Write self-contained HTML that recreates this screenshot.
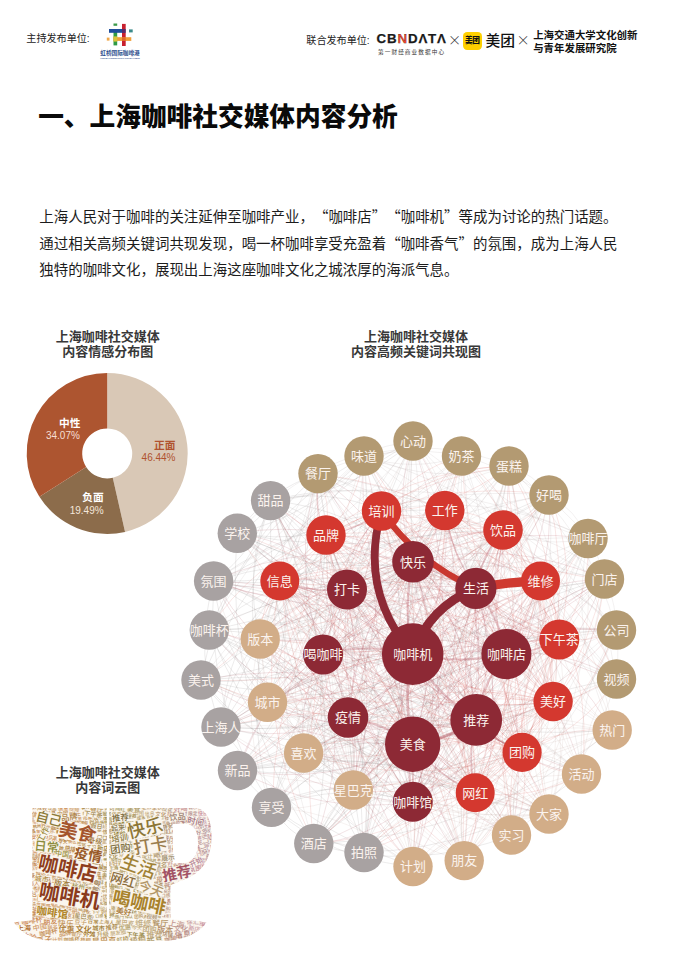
<!DOCTYPE html>
<html lang="zh-CN"><head><meta charset="utf-8"><title>上海咖啡社交媒体内容分析</title>
<style>
html,body{margin:0;padding:0;background:#fff;}
body{width:676px;height:964px;position:relative;overflow:hidden;font-family:"Liberation Sans","Noto Sans CJK SC",sans-serif;color:#111;}
.abs{position:absolute;white-space:nowrap;}
.hd{font-size:10.1px;color:#222;line-height:12px;}
h1{position:absolute;left:38.2px;top:99.2px;margin:0;font-size:25.7px;line-height:36px;font-weight:900;color:#0a0a0a;letter-spacing:0;white-space:nowrap;}
.para{position:absolute;left:39.3px;top:203.2px;width:600px;font-size:14.46px;line-height:26px;color:#1c1c1c;white-space:nowrap;text-spacing-trim:space-all;font-kerning:none;}
.q{font-family:"Noto Sans CJK SC",sans-serif;}
.ttl{position:absolute;text-align:center;font-weight:700;font-size:13px;line-height:15px;color:#383838;width:200px;}
svg{position:absolute;left:0;top:0;}
svg text{font-family:"Liberation Sans","Noto Sans CJK SC",sans-serif;}
</style></head><body>

<div class="abs hd" style="left:26.3px;top:33.4px;">主持发布单位:</div>
<div class="abs hd" style="left:306.3px;top:34.6px;">联合发布单位:</div>
<div class="abs" style="left:376.6px;top:31px;font-family:'Liberation Sans',sans-serif;font-weight:700;font-size:13.3px;line-height:16px;letter-spacing:0.85px;-webkit-text-stroke:0.25px #1a1a1a;color:#1a1a1a;">CB<span style="color:#e8452c;">N</span>D&#923;T&#923;</div>
<div class="abs" style="left:378px;top:47.7px;font-size:5.6px;line-height:8px;letter-spacing:1.12px;color:#333;">第一财经商业数据中心</div>
<div class="abs q" style="left:447.9px;top:31.2px;font-size:13.2px;line-height:18px;color:#333;font-weight:300;">×</div>
<div class="abs" style="left:462.8px;top:31.5px;width:18.8px;height:18.8px;border-radius:4.2px;background:#ffd000;"></div>
<div class="abs" style="left:462.8px;top:36.2px;width:18.8px;text-align:center;font-size:7.7px;line-height:9px;font-weight:900;color:#111;letter-spacing:-0.4px;">美团</div>
<div class="abs" style="left:485.4px;top:30.9px;font-size:14.8px;line-height:20px;font-weight:500;color:#111;">美团</div>
<div class="abs q" style="left:516.6px;top:31.2px;font-size:13.2px;line-height:18px;color:#333;font-weight:300;">×</div>
<div class="abs" style="left:533.2px;top:28.5px;font-size:10.43px;line-height:13.4px;font-weight:700;color:#111;">上海交通大学文化创新<br>与青年发展研究院</div>
<h1>一、上海咖啡社交媒体内容分析</h1>
<div class="para">上海人民对于咖啡的关注延伸至咖啡产业，<span class="q">“</span>咖啡店<span class="q">”“</span>咖啡机<span class="q">”</span>等成为讨论的热门话题。<br>通过相关高频关键词共现发现，喝一杯咖啡享受充盈着<span class="q">“</span>咖啡香气<span class="q">”</span>的氛围，成为上海人民<br>独特的咖啡文化，展现出上海这座咖啡文化之城浓厚的海派气息。</div>
<div class="ttl" style="left:7.7px;top:328.8px;">上海咖啡社交媒体<br>内容情感分布图</div>
<div class="ttl" style="left:316px;top:328.6px;">上海咖啡社交媒体<br>内容高频关键词共现图</div>
<div class="ttl" style="left:7.7px;top:765.3px;">上海咖啡社交媒体<br>内容词云图</div>
<svg width="676" height="964" viewBox="0 0 676 964">
<g>
<rect x="113.5" y="23.5" width="3.7" height="2.3" fill="#3c9a4a"/>
<rect x="122" y="23.9" width="3.7" height="22.1" fill="#c8202f"/>
<rect x="113.5" y="32" width="3.7" height="13.4" fill="#2f9a45"/>
<rect x="109" y="29" width="16.4" height="3.8" fill="#1f4e9c"/>
<rect x="129" y="29.4" width="3.7" height="3" fill="#3a8a8a"/>
<rect x="113.5" y="37.2" width="17.8" height="3.7" fill="#f0a03a"/>
<rect x="106.8" y="37.6" width="2.7" height="3" fill="#f0a84a"/>
<rect x="113.5" y="36.4" width="3.7" height="5.2" fill="#d8c43a"/>
<rect x="122" y="37.2" width="3.7" height="3.7" fill="#e0662a"/>
<rect x="122" y="29" width="3.4" height="3.8" fill="#5a2a6a"/>
<text x="120" y="55.2" text-anchor="middle" font-size="5.65" font-weight="700" fill="#2b4c8c">虹桥国际咖啡港</text>
<text x="120" y="58.7" text-anchor="middle" font-size="1.9" font-weight="700" fill="#2b4c8c" textLength="39.5" lengthAdjust="spacingAndGlyphs">HONGQIAO INTERNATIONAL COFFEE HARBOR</text>
</g>
<path d="M107.20 372.90A80.5 80.5 0 0 1 125.06 531.89L112.75 477.78A25.0 25.0 0 0 0 107.20 428.40Z" fill="#d9c8b6"/>
<path d="M125.06 531.89A80.5 80.5 0 0 1 39.42 496.83L86.15 466.89A25.0 25.0 0 0 0 112.75 477.78Z" fill="#8c6c4b"/>
<path d="M39.42 496.83A80.5 80.5 0 0 1 107.20 372.90L107.20 428.40A25.0 25.0 0 0 0 86.15 466.89Z" fill="#ad5530"/>
<text x="80.4" y="427.0" text-anchor="end" font-size="10.7" font-weight="700" fill="#ffffff">中性</text>
<text x="79.9" y="439.2" text-anchor="end" font-size="10.0" font-weight="400" fill="#f6dfd2">34.07%</text>
<text x="175.5" y="448.9" text-anchor="end" font-size="10.7" font-weight="700" fill="#b0532f">正面</text>
<text x="175.5" y="460.5" text-anchor="end" font-size="10.0" font-weight="400" fill="#b0532f">46.44%</text>
<text x="103.6" y="501.3" text-anchor="end" font-size="10.7" font-weight="700" fill="#ffffff">负面</text>
<text x="103.6" y="513.7" text-anchor="end" font-size="10.0" font-weight="400" fill="#f3e6da">19.49%</text>
<g fill="none" stroke-width="0.55" stroke-linecap="round">
<path stroke="#a59590" stroke-opacity="0.24" d="M413 441Q395 655 512 835M413 441Q279 501 209 630M413 441Q309 457 237 533M413 441Q355 504 347 590M413 441Q452 565 559 639M413 441Q397 591 476 720M413 441Q384 627 475 793M462 456Q511 519 588 538M462 456Q512 542 604 579M462 456Q367 653 413 866M462 456Q387 440 318 474M462 456Q444 480 445 510M462 456Q470 500 503 530M462 456Q359 532 323 654M462 456Q323 546 268 702M462 456Q351 605 353 790M509 466Q527 591 616 679M509 466Q371 635 364 852M509 466Q332 596 272 807M509 466Q319 521 201 680M509 466Q438 436 364 456M549 495Q534 474 509 466M549 495Q367 481 214 581M549 495Q470 505 413 562M549 495Q380 518 260 639M549 495Q474 595 476 720M549 495Q382 582 304 753M588 538Q539 476 462 456M588 538Q576 510 549 495M588 538Q568 638 612 730M588 538Q471 679 464 861M588 538Q436 466 271 501M588 538Q489 490 382 511M588 538Q407 533 260 639M604 579Q514 691 512 835M604 579Q398 537 209 630M604 579Q562 537 503 530M604 579Q572 602 559 639M616 630Q591 530 509 466M616 630Q575 696 582 774M616 630Q402 611 221 727M616 630Q494 501 318 474M616 630Q520 500 364 456M616 630Q519 531 382 511M616 630Q587 593 540 581M616 630Q531 651 476 720M616 630Q548 675 522 752M616 630Q485 681 413 802M616 679Q599 554 509 466M616 679Q626 604 588 538M616 679Q461 723 364 852M616 679Q502 526 318 474M616 679Q585 585 503 530M616 679Q497 588 347 590M616 679Q474 617 323 654M582 774Q554 579 413 441M512 835Q591 775 616 679M413 866Q555 783 616 630M272 807Q351 648 318 474M238 770Q354 635 364 456M201 680Q295 597 318 474M214 581Q337 545 413 441M318 474Q253 658 314 844M318 474Q351 534 413 562M318 474Q281 521 280 581M318 474Q382 596 506 654M318 474Q282 638 353 790M318 474Q342 660 475 793M364 456Q391 457 413 441M364 456Q413 473 462 456M364 456Q435 486 509 466M364 456Q442 635 612 730M364 456Q373 671 512 835M364 456Q397 541 476 588M364 456Q431 549 540 581M364 456Q301 504 280 581M364 456Q281 530 260 639M382 511Q409 481 413 441M382 511Q431 497 462 456M382 511Q356 482 318 474M382 511Q382 481 364 456M445 510Q441 470 413 441M503 530Q495 486 462 456M503 530Q544 549 588 538M503 530Q545 572 604 579M326 535Q455 632 616 630M413 562Q504 580 588 538M413 562Q506 603 604 579M476 588Q491 520 462 456M476 588Q442 503 364 456M280 581Q370 534 413 441M347 590Q449 555 509 466M347 590Q464 577 549 495M347 590Q475 656 616 630M559 639Q520 515 413 441M559 639Q564 544 509 466M559 639Q493 514 364 456M260 639Q317 566 318 474M323 654Q463 613 549 495M323 654Q475 641 588 538M323 654Q377 562 364 456M413 654Q493 576 509 466M413 654Q508 598 549 495M268 702Q443 646 549 495M348 718Q449 606 462 456M348 718Q471 619 509 466M348 718Q498 669 588 538M348 718Q489 744 616 679M476 720Q536 599 509 466M476 720Q465 569 364 456M413 744Q486 608 462 456M522 752Q593 680 604 579M522 752Q590 707 616 630M353 790Q442 626 413 441M353 790Q464 641 462 456M353 790Q513 704 588 538M475 793Q563 656 549 495"/>
<path stroke="#bb9c92" stroke-opacity="0.24" d="M413 441Q367 660 464 861M413 441Q324 605 353 790M462 456Q394 659 464 861M549 495Q444 663 464 861M549 495Q418 658 413 866M588 538Q522 670 549 814M616 630Q439 638 304 753M616 679Q583 721 582 774M612 730Q516 770 464 861M612 730Q467 749 364 852M612 730Q602 643 540 581M612 730Q471 599 280 581M612 730Q601 676 559 639M612 730Q454 689 304 753M612 730Q473 716 353 790M612 730Q500 732 413 802M582 774Q508 797 464 861M582 774Q482 792 413 866M582 774Q496 642 347 590M582 774Q444 652 260 639M582 774Q555 753 522 752M549 814Q472 817 413 866M549 814Q400 715 221 727M549 814Q574 664 503 530M549 814Q584 696 540 581M549 814Q570 758 553 702M549 814Q455 769 353 790M549 814Q483 785 413 802M512 835Q529 621 413 441M512 835Q600 700 588 538M512 835Q439 669 280 581M512 835Q412 727 268 702M512 835Q513 771 476 720M512 835Q468 802 413 802M464 861Q450 674 326 535M464 861Q550 734 540 581M464 861Q549 766 559 639M464 861Q520 765 506 654M464 861Q393 748 268 702M464 861Q536 796 553 702M464 861Q402 779 304 753M413 866Q352 813 272 807M413 866Q427 717 347 590M413 866Q375 727 260 639M413 866Q378 791 304 753M413 866Q396 818 353 790M413 866Q424 834 413 802M413 866Q457 840 475 793M314 844Q343 823 353 790M272 807Q315 813 353 790M238 770Q432 814 612 730M221 727Q370 826 549 814M214 581Q248 709 353 790M271 501Q357 705 549 814M364 456Q302 621 353 790M382 511Q437 676 582 774M382 511Q391 695 512 835M382 511Q363 700 464 861M382 511Q299 554 260 639M382 511Q320 646 353 790M445 510Q491 649 612 730M445 510Q395 689 464 861M445 510Q333 608 304 753M445 510Q352 635 353 790M503 530Q365 608 304 753M326 535Q390 712 549 814M326 535Q275 576 260 639M326 535Q278 640 304 753M326 535Q296 667 353 790M413 562Q326 639 304 753M413 562Q344 666 353 790M476 588Q424 723 464 861M476 588Q397 717 413 866M540 581Q528 684 582 774M540 581Q505 699 549 814M540 581Q390 562 260 639M280 581Q421 712 612 730M280 581Q352 747 512 835M280 581Q253 640 268 702M280 581Q262 671 304 753M559 639Q570 694 612 730M559 639Q548 710 582 774M559 639Q403 621 268 702M260 639Q392 582 462 456M260 639Q429 616 549 495M260 639Q441 644 588 538M260 639Q353 780 512 835M260 639Q325 784 464 861M260 639Q237 725 272 807M260 639Q374 606 445 510M260 639Q400 626 503 530M260 639Q350 626 413 562M260 639Q280 613 280 581M260 639Q312 629 347 590M260 639Q410 690 559 639M260 639Q334 672 413 654M260 639Q253 672 268 702M260 639Q263 703 304 753M323 654Q315 727 353 790M413 654Q454 757 549 814M413 654Q431 761 512 835M506 654Q450 750 464 861M268 702Q412 791 582 774M268 702Q367 810 512 835M268 702Q425 688 540 581M268 702Q424 720 559 639M268 702Q295 761 353 790M348 718Q432 800 549 814M348 718Q382 809 464 861M348 718Q310 696 268 702M476 720Q474 783 512 835M476 720Q403 734 353 790M304 753Q455 644 509 466M304 753Q482 694 588 538M304 753Q484 717 604 579M304 753Q462 794 612 730M304 753Q416 825 549 814M304 753Q339 828 413 866M304 753Q268 751 238 770M304 753Q265 699 201 680M304 753Q308 632 237 533M304 753Q330 621 271 501M304 753Q391 676 413 562M304 753Q418 700 476 588M304 753Q321 663 280 581M304 753Q451 740 559 639M304 753Q301 689 260 639M304 753Q332 743 348 718M304 753Q360 767 413 744M413 744Q347 699 268 702M353 790Q397 844 464 861M353 790Q324 810 314 844M353 790Q296 709 201 680M353 790Q389 626 318 474M353 790Q472 685 503 530M353 790Q383 658 326 535M353 790Q449 710 476 588M353 790Q352 673 280 581M353 790Q332 699 260 639M353 790Q406 732 413 654M353 790Q325 732 268 702M353 790Q335 763 304 753M353 790Q381 806 413 802M413 802Q525 800 612 730M413 802Q502 817 582 774M413 802Q479 831 549 814M413 802Q402 834 413 866M475 793Q486 820 512 835M475 793Q396 744 304 753"/>
<path stroke="#8f8a8a" stroke-opacity="0.3" d="M413 441Q319 638 364 852M413 441Q266 524 201 680M604 579Q414 662 314 844M604 579Q399 637 272 807M616 630Q403 636 238 770M616 679Q437 710 314 844M582 774Q409 689 221 727M582 774Q420 639 209 630M549 814Q401 739 238 770M364 852Q529 734 588 538M364 852Q486 850 582 774M364 852Q340 839 314 844M364 852Q431 685 382 511M364 852Q400 718 347 590M364 852Q377 746 323 654M364 852Q341 761 268 702M364 852Q379 782 348 718M314 844Q476 688 509 466M314 844Q482 837 612 730M314 844Q414 873 512 835M314 844Q350 665 271 501M314 844Q411 720 413 562M272 807Q448 677 509 466M272 807Q332 861 413 866M272 807Q287 833 314 844M238 770Q452 714 588 538M238 770Q287 833 364 852M238 770Q411 695 503 530M238 770Q322 668 326 535M238 770Q421 760 559 639M238 770Q365 786 476 720M221 727Q437 695 588 538M221 727Q293 829 413 866M221 727Q338 646 382 511M221 727Q405 741 559 639M221 727Q284 708 323 654M221 727Q376 739 506 654M221 727Q391 771 553 702M201 680Q378 656 503 530M201 680Q288 629 326 535M201 680Q266 688 323 654M201 680Q358 719 506 654M201 680Q240 734 304 753M201 680Q286 777 413 802M209 630Q387 599 509 466M209 630Q394 748 612 730M209 630Q348 780 549 814M209 630Q271 783 413 866M209 630Q373 630 503 530M209 630Q323 631 413 562M209 630Q226 676 268 702M209 630Q327 720 476 720M209 630Q369 724 553 702M209 630Q315 757 475 793M214 581Q396 595 549 495M214 581Q204 704 272 807M214 581Q192 655 221 727M214 581Q256 550 271 501M214 581Q310 544 364 456M214 581Q341 585 445 510M214 581Q247 592 280 581M214 581Q301 651 413 654M214 581Q220 651 268 702M237 533Q400 567 549 495M237 533Q413 619 604 579M237 533Q223 701 314 844M237 533Q259 523 271 501M237 533Q314 516 364 456M237 533Q313 547 382 511M237 533Q320 577 413 562M237 533Q380 641 559 639M271 501Q352 495 413 441M271 501Q242 568 260 639M271 501Q362 617 506 654M271 501Q235 601 268 702M271 501Q336 645 476 720M271 501Q263 659 353 790M318 474Q224 557 201 680M318 474Q268 490 237 533M364 456Q257 517 209 630M382 511Q265 592 221 727M382 511Q328 487 271 501M445 510Q346 668 364 852M445 510Q317 506 214 581M445 510Q359 476 271 501M503 530Q379 668 364 852M503 530Q339 530 209 630M326 535Q304 508 271 501M413 562Q300 661 272 807M413 562Q289 612 221 727M413 562Q352 507 271 501M476 588Q336 564 209 630M476 588Q346 540 214 581M280 581Q237 693 272 807M280 581Q226 644 221 727M559 639Q387 674 272 807M260 639Q226 676 221 727M323 654Q310 760 364 852M323 654Q301 579 237 533M323 654Q323 569 271 501M413 654Q368 553 271 501M506 654Q378 716 314 844M506 654Q351 642 221 727M268 702Q303 602 271 501M476 720Q398 767 364 852M476 720Q374 754 314 844M476 720Q359 729 272 807M304 753Q278 775 272 807M413 744Q321 728 238 770M413 744Q341 629 214 581M413 744Q383 598 271 501M522 752Q426 776 364 852M522 752Q402 763 314 844M522 752Q374 662 201 680M522 752Q397 614 214 581M353 790Q309 785 272 807M413 802Q341 781 272 807M413 802Q330 756 238 770M413 802Q340 681 209 630M413 802Q371 638 237 533M475 793Q371 765 272 807M475 793Q360 741 238 770M475 793Q380 642 214 581"/>
<path stroke="#9a3040" stroke-opacity="0.24" d="M413 441Q392 501 413 562M462 456Q419 501 413 562M549 495Q429 625 413 802M588 538Q459 523 347 590M604 579Q512 538 413 562M604 579Q496 584 413 654M604 579Q516 628 476 720M604 579Q481 629 413 744M616 630Q557 623 506 654M616 679Q566 648 506 654M612 730Q541 612 413 562M582 774Q564 701 506 654M549 814Q463 696 323 654M549 814Q529 755 476 720M512 835Q536 706 476 588M512 835Q478 773 413 744M464 861Q516 726 476 588M464 861Q430 769 348 718M413 866Q465 714 413 562M413 866Q492 738 476 588M413 866Q406 781 348 718M413 866Q434 805 413 744M314 844Q438 744 476 588M314 844Q351 751 323 654M314 844Q395 766 413 654M314 844Q416 809 476 720M314 844Q370 839 413 802M238 770Q361 696 413 562M238 770Q330 787 413 744M238 770Q320 816 413 802M221 727Q345 677 413 562M221 727Q307 680 347 590M221 727Q286 744 348 718M221 727Q304 797 413 802M201 680Q332 747 476 720M201 680Q296 748 413 744M209 630Q264 697 348 718M214 581Q317 605 413 562M214 581Q343 629 476 588M214 581Q279 608 347 590M214 581Q258 672 348 718M214 581Q285 696 413 744M237 533Q283 580 347 590M271 501Q331 555 413 562M271 501Q294 558 347 590M271 501Q316 602 413 654M271 501Q300 647 413 744M318 474Q377 558 476 588M318 474Q313 536 347 590M318 474Q290 565 323 654M318 474Q310 654 413 802M364 456Q355 563 413 654M382 511Q351 544 347 590M382 511Q328 573 323 654M382 511Q357 633 413 744M445 510Q420 531 413 562M445 510Q361 598 348 718M445 510Q379 651 413 802M503 530Q453 531 413 562M503 530Q480 555 476 588M503 530Q415 533 347 590M503 530Q437 577 413 654M503 530Q484 593 506 654M503 530Q457 620 476 720M503 530Q412 651 413 802M326 535Q370 653 476 720M413 562Q388 720 464 861M413 562Q290 636 238 770M413 562Q310 538 214 581M413 562Q330 518 237 533M413 562Q380 502 318 474M413 562Q473 593 540 581M413 562Q375 564 347 590M413 562Q473 625 559 639M413 562Q323 574 260 639M413 562Q352 593 323 654M413 562Q444 624 506 654M413 562Q354 629 348 718M413 562Q418 652 476 720M413 562Q459 655 553 702M413 562Q382 653 413 744M476 588Q528 554 549 495M476 588Q539 633 616 630M476 588Q531 658 616 679M476 588Q411 567 347 590M476 588Q509 628 559 639M476 588Q359 577 260 639M476 588Q388 595 323 654M476 588Q433 611 413 654M476 588Q454 654 476 720M476 588Q471 678 522 752M540 581Q480 550 413 562M540 581Q511 612 506 654M280 581Q377 618 476 588M280 581Q334 640 413 654M280 581Q291 661 348 718M280 581Q354 684 476 720M347 590Q433 722 582 774M347 590Q333 739 413 866M347 590Q302 543 237 533M347 590Q385 587 413 562M347 590Q315 574 280 581M347 590Q326 654 348 718M347 590Q354 678 413 744M347 590Q407 701 522 752M347 590Q344 707 413 802M559 639Q526 600 476 588M559 639Q440 643 348 718M260 639Q377 650 476 588M323 654Q426 579 462 456M323 654Q477 665 604 579M323 654Q332 776 413 866M323 654Q261 698 238 770M323 654Q281 599 214 581M323 654Q345 595 326 535M323 654Q384 623 413 562M323 654Q444 655 540 581M323 654Q297 700 304 753M413 654Q521 649 604 579M413 654Q326 584 214 581M413 654Q453 588 445 510M413 654Q455 632 476 588M413 654Q368 639 323 654M413 654Q332 653 268 702M413 654Q341 685 304 753M413 654Q451 722 522 752M413 654Q360 712 353 790M413 654Q388 728 413 802M506 654Q555 582 549 495M506 654Q568 633 604 579M506 654Q363 691 272 807M506 654Q468 561 382 511M506 654Q436 564 326 535M506 654Q475 592 413 562M506 654Q502 616 476 588M506 654Q438 595 347 590M506 654Q415 623 323 654M506 654Q460 638 413 654M506 654Q379 638 268 702M506 654Q416 659 348 718M506 654Q480 682 476 720M506 654Q444 683 413 744M506 654Q407 696 353 790M506 654Q434 712 413 802M268 702Q391 681 476 588M268 702Q326 659 347 590M268 702Q303 688 323 654M268 702Q348 703 413 654M268 702Q369 747 476 720M348 718Q294 650 209 630M348 718Q400 589 364 456M348 718Q432 630 445 510M348 718Q368 623 326 535M348 718Q467 682 540 581M348 718Q337 638 280 581M348 718Q317 663 260 639M348 718Q391 697 413 654M348 718Q320 728 304 753M348 718Q376 742 413 744M476 720Q492 570 413 441M476 720Q520 765 582 774M476 720Q420 782 413 866M476 720Q345 653 201 680M476 720Q439 570 318 474M476 720Q464 599 382 511M476 720Q433 602 326 535M476 720Q471 630 413 562M476 720Q498 654 476 588M476 720Q532 661 540 581M476 720Q402 617 280 581M476 720Q434 633 347 590M476 720Q531 694 559 639M476 720Q411 661 323 654M476 720Q456 676 413 654M476 720Q440 721 413 744M553 702Q534 632 476 588M553 702Q538 670 506 654M553 702Q466 728 413 802M304 753Q375 722 413 654M304 753Q422 738 506 654M413 744Q508 621 509 466M413 744Q523 643 549 495M413 744Q534 722 616 630M413 744Q469 802 549 814M413 744Q447 806 512 835M413 744Q419 811 464 861M413 744Q370 790 364 852M413 744Q361 609 237 533M413 744Q494 652 503 530M413 744Q444 653 413 562M413 744Q504 684 540 581M413 744Q383 684 323 654M522 752Q500 639 413 562M353 790Q384 689 347 590M353 790Q361 717 323 654M353 790Q363 753 348 718M413 802Q474 621 413 441M413 802Q547 723 604 579M413 802Q421 622 318 474M413 802Q478 662 445 510M413 802Q504 681 503 530M413 802Q454 682 413 562M413 802Q481 706 476 588M413 802Q416 684 347 590M413 802Q395 749 348 718M413 802Q458 772 476 720M413 802Q366 759 304 753M475 793Q510 691 476 588M475 793Q424 734 348 718"/>
<path stroke="#d0453f" stroke-opacity="0.24" d="M462 456Q412 470 382 511M462 456Q466 594 553 702M462 456Q411 627 475 793M509 466Q438 467 382 511M509 466Q406 469 326 535M509 466Q505 529 540 581M509 466Q375 485 280 581M549 495Q431 477 326 535M588 538Q519 634 522 752M616 679Q595 617 540 581M616 679Q527 712 475 793M612 730Q563 726 522 752M582 774Q594 671 540 581M549 814Q454 652 280 581M512 835Q502 651 382 511M512 835Q531 796 522 752M464 861Q482 672 382 511M464 861Q420 689 280 581M464 861Q512 816 522 752M464 861Q481 829 475 793M413 866Q426 686 326 535M364 852Q498 779 559 639M364 852Q484 809 553 702M314 844Q462 719 503 530M314 844Q433 833 522 752M238 770Q354 665 382 511M221 727Q306 649 326 535M201 680Q388 688 540 581M201 680Q257 644 280 581M201 680Q373 751 553 702M237 533Q342 691 522 752M318 474Q312 506 326 535M364 456Q430 581 559 639M382 511Q453 510 509 466M382 511Q414 691 549 814M382 511Q291 666 314 844M382 511Q276 640 272 807M382 511Q413 522 445 510M382 511Q439 541 503 530M382 511Q389 542 413 562M382 511Q319 529 280 581M382 511Q449 605 559 639M382 511Q435 635 553 702M382 511Q411 656 522 752M445 510Q513 572 604 579M445 510Q471 530 503 530M445 510Q481 562 540 581M445 510Q451 593 506 654M445 510Q324 576 268 702M445 510Q466 624 553 702M503 530Q532 520 549 495M503 530Q534 624 616 679M503 530Q478 680 549 814M503 530Q477 510 445 510M503 530Q414 502 326 535M503 530Q383 518 280 581M503 530Q363 543 260 639M503 530Q392 562 323 654M503 530Q394 597 348 718M503 530Q499 624 553 702M503 530Q444 657 475 793M326 535Q251 563 209 630M326 535Q332 503 318 474M326 535Q358 502 364 456M326 535Q390 543 445 510M326 535Q425 594 540 581M326 535Q425 627 559 639M326 535Q396 625 506 654M326 535Q411 657 553 702M326 535Q334 654 413 744M326 535Q324 683 413 802M326 535Q357 689 475 793M413 562Q435 676 522 752M413 562Q405 688 475 793M476 588Q499 564 503 530M476 588Q410 536 326 535M476 588Q379 551 280 581M476 588Q495 658 553 702M476 588Q441 690 475 793M540 581Q522 505 462 456M540 581Q483 703 512 835M540 581Q455 708 464 861M540 581Q448 489 318 474M540 581Q505 529 445 510M540 581Q441 522 326 535M540 581Q540 613 559 639M540 581Q419 581 323 654M540 581Q485 640 476 720M540 581Q502 664 522 752M540 581Q411 654 353 790M280 581Q375 743 549 814M280 581Q324 752 464 861M280 581Q298 746 413 866M280 581Q252 718 314 844M280 581Q374 574 445 510M280 581Q311 566 326 535M280 581Q350 594 413 562M280 581Q260 607 260 639M280 581Q396 688 553 702M280 581Q319 685 413 744M347 590Q435 586 503 530M559 639Q579 565 549 495M559 639Q591 594 588 538M559 639Q589 644 616 630M559 639Q524 725 549 814M559 639Q502 729 512 835M559 639Q376 650 238 770M559 639Q524 555 445 510M559 639Q550 575 503 530M559 639Q560 607 540 581M559 639Q429 563 280 581M559 639Q410 588 260 639M559 639Q546 669 553 702M559 639Q458 696 413 802M559 639Q491 702 475 793M260 639Q343 596 382 511M260 639Q410 658 540 581M260 639Q396 720 553 702M260 639Q372 740 522 752M260 639Q342 752 475 793M323 654Q408 603 445 510M323 654Q314 610 280 581M323 654Q430 717 553 702M323 654Q406 737 522 752M413 654Q479 607 503 530M413 654Q359 595 280 581M413 654Q475 702 553 702M506 654Q536 623 540 581M506 654Q498 706 522 752M268 702Q389 636 445 510M268 702Q415 656 503 530M348 718Q453 744 553 702M553 702Q549 563 462 456M553 702Q571 576 509 466M553 702Q600 649 604 579M553 702Q383 658 221 727M553 702Q500 577 382 511M553 702Q531 588 445 510M553 702Q557 607 503 530M553 702Q468 580 326 535M553 702Q469 610 347 590M553 702Q446 639 323 654M553 702Q448 675 348 718M553 702Q420 685 304 753M553 702Q529 722 522 752M553 702Q499 734 475 793M304 753Q352 648 326 535M304 753Q437 770 553 702M304 753Q413 790 522 752M413 744Q374 640 280 581M413 744Q490 747 553 702M522 752Q579 628 549 495M522 752Q582 732 616 679M522 752Q548 773 582 774M522 752Q475 797 464 861M522 752Q377 713 238 770M522 752Q376 689 221 727M522 752Q417 594 237 533M522 752Q493 608 382 511M522 752Q525 618 445 510M522 752Q461 610 326 535M522 752Q560 670 540 581M522 752Q430 626 280 581M522 752Q462 641 347 590M522 752Q531 701 506 654M522 752Q403 684 268 702M522 752Q469 730 413 744M522 752Q459 759 413 802M522 752Q492 765 475 793M353 790Q447 666 445 510M353 790Q482 717 540 581M353 790Q468 780 553 702M353 790Q444 800 522 752M413 802Q514 713 540 581M413 802Q500 776 553 702M475 793Q548 635 509 466M475 793Q576 708 604 579M475 793Q574 735 616 630M475 793Q532 801 582 774M475 793Q409 804 364 852M475 793Q370 666 209 630M475 793Q423 612 271 501M475 793Q477 605 364 456M475 793Q476 636 382 511M475 793Q534 666 503 530M475 793Q544 698 540 581M475 793Q414 654 280 581M475 793Q446 669 347 590M475 793Q530 760 553 702"/>
</g>
<g fill="none" stroke="#b04a55" stroke-linecap="round">
<path stroke-width="3.2" stroke-opacity="0.45" d="M413 744Q447 740 476 720"/>
<path stroke-width="2.6" stroke-opacity="0.35" d="M413 654Q402 699 413 744"/>
<path stroke-width="2.0" stroke-opacity="0.3" d="M413 654Q460 665 506 654"/>
<path stroke-width="2.2" stroke-opacity="0.3" d="M413 654Q437 695 476 720"/>
<path stroke-width="2.0" stroke-opacity="0.3" d="M506 654Q483 683 476 720"/>
<path stroke-width="2.0" stroke-opacity="0.3" d="M413 744Q406 773 413 802"/>
<path stroke-width="2.0" stroke-opacity="0.3" d="M413 654Q368 643 323 654"/>
<path stroke-width="1.8" stroke-opacity="0.3" d="M413 654Q388 614 347 590"/>
<path stroke-width="1.8" stroke-opacity="0.3" d="M413 744Q384 723 348 718"/>
<path stroke-width="1.8" stroke-opacity="0.3" d="M476 720Q467 756 475 793"/>
<path stroke-width="2.0" stroke-opacity="0.3" d="M506 654Q499 618 476 588"/>
<path stroke-width="2.0" stroke-opacity="0.3" d="M413 562Q402 608 413 654"/>
<path stroke-width="1.8" stroke-opacity="0.3" d="M506 654Q535 653 559 639"/>
<path stroke-width="1.8" stroke-opacity="0.3" d="M476 720Q495 742 522 752"/>
<path stroke-width="1.6" stroke-opacity="0.3" d="M413 744Q438 776 475 793"/>
<path stroke-width="1.6" stroke-opacity="0.3" d="M445 510Q451 553 476 588"/>
<path stroke-width="1.6" stroke-opacity="0.3" d="M503 530Q482 556 476 588"/>
<path stroke-width="1.4" stroke-opacity="0.3" d="M326 535Q357 530 382 511"/>
<path stroke-width="1.4" stroke-opacity="0.3" d="M280 581Q312 593 347 590"/>
<path stroke-width="1.4" stroke-opacity="0.25" d="M413 744Q378 760 353 790"/>
</g>
<g fill="none" stroke-linecap="round">
<path stroke="#c9382f" stroke-width="6.4" d="M381.5 511Q418 563 475.9 588.4"/>
<path stroke="#8d2935" stroke-width="7.8" d="M381.5 511Q358.5 591 412.7 654"/>
<path stroke="#8d2935" stroke-width="8.8" d="M475.9 588.4Q429 607 412.7 654"/>
<path stroke="#cf3a30" stroke-width="9.4" d="M475.9 588.4Q508 581.5 540.5 581"/>
</g>
<g>
<circle cx="413" cy="441" r="19.7" fill="#b39a72"/>
<circle cx="461.5" cy="456" r="19.7" fill="#b39a72"/>
<circle cx="509" cy="466" r="19.7" fill="#b39a72"/>
<circle cx="549" cy="495" r="19.7" fill="#b39a72"/>
<circle cx="588" cy="538.5" r="19.7" fill="#b39a72"/>
<circle cx="604.5" cy="579" r="19.7" fill="#b39a72"/>
<circle cx="616.5" cy="630" r="19.7" fill="#b39a72"/>
<circle cx="616.5" cy="679" r="19.7" fill="#b39a72"/>
<circle cx="612.2" cy="730" r="19.7" fill="#d2ad88"/>
<circle cx="581.5" cy="774" r="19.7" fill="#d2ad88"/>
<circle cx="549" cy="814" r="19.7" fill="#d2ad88"/>
<circle cx="511.5" cy="835" r="19.7" fill="#d2ad88"/>
<circle cx="464.2" cy="860.6" r="19.7" fill="#d2ad88"/>
<circle cx="413" cy="866.5" r="19.7" fill="#d2ad88"/>
<circle cx="364" cy="852.5" r="19.7" fill="#a8a2a2"/>
<circle cx="313.8" cy="843.5" r="19.7" fill="#a8a2a2"/>
<circle cx="271.5" cy="807.4" r="19.7" fill="#a8a2a2"/>
<circle cx="237.5" cy="770.5" r="19.7" fill="#a8a2a2"/>
<circle cx="221" cy="727" r="19.7" fill="#a8a2a2"/>
<circle cx="201" cy="680" r="19.7" fill="#a8a2a2"/>
<circle cx="209.3" cy="630" r="19.7" fill="#a8a2a2"/>
<circle cx="213.6" cy="581" r="19.7" fill="#a8a2a2"/>
<circle cx="237.3" cy="533.2" r="19.7" fill="#a8a2a2"/>
<circle cx="270.6" cy="500.6" r="19.7" fill="#a8a2a2"/>
<circle cx="318" cy="473.6" r="19.7" fill="#b39a72"/>
<circle cx="364" cy="456" r="19.7" fill="#b39a72"/>
<circle cx="381.5" cy="511" r="19.7" fill="#d4382f"/>
<circle cx="444.8" cy="510.5" r="19.7" fill="#d4382f"/>
<circle cx="503" cy="530" r="19.8" fill="#d4382f"/>
<circle cx="326" cy="535" r="19.7" fill="#d4382f"/>
<circle cx="413" cy="561.8" r="20.8" fill="#8d2935"/>
<circle cx="475.9" cy="588.4" r="20.6" fill="#8d2935"/>
<circle cx="540.5" cy="581" r="19.5" fill="#d4382f"/>
<circle cx="279.8" cy="581" r="19.5" fill="#d4382f"/>
<circle cx="347" cy="589.5" r="20" fill="#8d2935"/>
<circle cx="559.3" cy="639.4" r="20" fill="#d4382f"/>
<circle cx="260.2" cy="639" r="19.7" fill="#d2ad88"/>
<circle cx="323.1" cy="654.4" r="20" fill="#8d2935"/>
<circle cx="412.7" cy="654.1" r="30.8" fill="#8d2935"/>
<circle cx="506.4" cy="654.1" r="25.1" fill="#8d2935"/>
<circle cx="267.5" cy="702.2" r="19.7" fill="#d2ad88"/>
<circle cx="348" cy="717.5" r="20.3" fill="#8d2935"/>
<circle cx="476.2" cy="719.9" r="25.9" fill="#8d2935"/>
<circle cx="553.1" cy="701.5" r="19.7" fill="#d4382f"/>
<circle cx="303.6" cy="753" r="19.7" fill="#d2ad88"/>
<circle cx="412.7" cy="744.2" r="27.7" fill="#8d2935"/>
<circle cx="522.1" cy="752.4" r="19.6" fill="#d4382f"/>
<circle cx="353.3" cy="790" r="19.7" fill="#d2ad88"/>
<circle cx="412.8" cy="801.8" r="20" fill="#8d2935"/>
<circle cx="475.2" cy="792.8" r="19.5" fill="#d4382f"/>
</g>
<g fill="#fbf3ee" font-size="13" font-weight="400" text-anchor="middle">
<text x="413" y="445.7">心动</text>
<text x="461.5" y="460.7">奶茶</text>
<text x="509" y="470.7">蛋糕</text>
<text x="549" y="499.7">好喝</text>
<text x="588" y="543.2">咖啡厅</text>
<text x="604.5" y="583.7">门店</text>
<text x="616.5" y="634.7">公司</text>
<text x="616.5" y="683.7">视频</text>
<text x="612.2" y="734.7">热门</text>
<text x="581.5" y="778.7">活动</text>
<text x="549" y="818.7">大家</text>
<text x="511.5" y="839.7">实习</text>
<text x="464.2" y="865.3">朋友</text>
<text x="413" y="871.2">计划</text>
<text x="364" y="857.2">拍照</text>
<text x="313.8" y="848.2">酒店</text>
<text x="271.5" y="812.1">享受</text>
<text x="237.5" y="775.2">新品</text>
<text x="221" y="731.7">上海人</text>
<text x="201" y="684.7">美式</text>
<text x="209.3" y="634.7">咖啡杯</text>
<text x="213.6" y="585.7">氛围</text>
<text x="237.3" y="537.9">学校</text>
<text x="270.6" y="505.3">甜品</text>
<text x="318" y="478.3">餐厅</text>
<text x="364" y="460.7">味道</text>
<text x="381.5" y="515.7">培训</text>
<text x="444.8" y="515.2">工作</text>
<text x="503" y="534.7">饮品</text>
<text x="326" y="539.7">品牌</text>
<text x="413" y="566.5">快乐</text>
<text x="475.9" y="593.1">生活</text>
<text x="540.5" y="585.7">维修</text>
<text x="279.8" y="585.7">信息</text>
<text x="347" y="594.2">打卡</text>
<text x="559.3" y="644.1">下午茶</text>
<text x="260.2" y="643.7">版本</text>
<text x="323.1" y="659.1">喝咖啡</text>
<text x="412.7" y="658.8">咖啡机</text>
<text x="506.4" y="658.8">咖啡店</text>
<text x="267.5" y="706.9">城市</text>
<text x="348" y="722.2">疫情</text>
<text x="476.2" y="724.6">推荐</text>
<text x="553.1" y="706.2">美好</text>
<text x="303.6" y="757.7">喜欢</text>
<text x="412.7" y="748.9">美食</text>
<text x="522.1" y="757.1">团购</text>
<text x="353.3" y="794.7">星巴克</text>
<text x="412.8" y="806.5">咖啡馆</text>
<text x="475.2" y="797.5">网红</text>
</g>
<defs><clipPath id="cup"><path d="M32.3 808H107V920H32.3ZM109.2 808H170.5V920H109.2Z"/><path clip-rule="evenodd" d="M170.5 808H193C206 808 211.5 818 211.5 837C211.5 858 203 871 188 878L170.5 885ZM172.8 824H185C194 824 198 831 198 843C198 856 192 863 182 863H172.8Z"/><path d="M14 922.5C30 920 40 919.6 60 919.6H160C180 919.6 195 920 206.5 922.5C200 932 186 939.5 168 940.8H50C32 939.5 20 932 14 922.5Z"/></clipPath></defs>
<g clip-path="url(#cup)">
<rect x="10" y="805" width="205" height="142" fill="#fbf6ee"/>
<text x="3.5" y="811.7" font-size="6.8" font-weight="500" fill="#b96e2c" transform="rotate(11 3.5 806.0)">联名</text>
<text x="17.9" y="809.8" font-size="4.4" font-weight="500" fill="#cf8751" transform="rotate(-3 17.9 806.0)">杭州</text>
<text x="27.2" y="809.8" font-size="4.4" font-weight="500" fill="#c48d57" transform="rotate(-8 27.2 806.0)">计划</text>
<text x="37.1" y="810.4" font-size="5.2" font-weight="500" fill="#b8884d" transform="rotate(3 37.1 806.0)">喜欢</text>
<text x="48.2" y="809.8" font-size="4.4" font-weight="500" fill="#ba925a" transform="rotate(7 48.2 806.0)">饮品</text>
<text x="58.2" y="810.4" font-size="5.2" font-weight="500" fill="#cb8b50" transform="rotate(1 58.2 806.0)">信息</text>
<text x="69.5" y="810.4" font-size="5.2" font-weight="500" fill="#cca06d" transform="rotate(11 69.5 806.0)">视频</text>
<text x="81.0" y="809.8" font-size="4.4" font-weight="500" fill="#a57f38" transform="rotate(-9 81.0 806.0)">餐厅</text>
<text x="90.2" y="811.7" font-size="6.8" font-weight="500" fill="#b79359" transform="rotate(5 90.2 806.0)">餐厅</text>
<text x="104.1" y="810.4" font-size="5.2" font-weight="500" fill="#a38c4b" transform="rotate(-0 104.1 806.0)">公司</text>
<text x="115.4" y="810.4" font-size="5.2" font-weight="500" fill="#a59c63" transform="rotate(6 115.4 806.0)">网红</text>
<text x="126.9" y="811.7" font-size="6.8" font-weight="500" fill="#ac9c66" transform="rotate(2 126.9 806.0)">美食</text>
<text x="140.7" y="810.4" font-size="5.2" font-weight="500" fill="#bfa375" transform="rotate(-9 140.7 806.0)">生活</text>
<text x="151.6" y="810.4" font-size="5.2" font-weight="500" fill="#bd9e73" transform="rotate(-6 151.6 806.0)">拿铁</text>
<text x="162.7" y="810.4" font-size="5.2" font-weight="500" fill="#ad9375" transform="rotate(11 162.7 806.0)">拉花</text>
<text x="173.5" y="811.7" font-size="6.8" font-weight="500" fill="#c89495" transform="rotate(-4 173.5 806.0)">好喝</text>
<text x="188.2" y="809.8" font-size="4.4" font-weight="500" fill="#ad7c7f" transform="rotate(-8 188.2 806.0)">特色</text>
<text x="197.4" y="810.4" font-size="5.2" font-weight="500" fill="#bc989d" transform="rotate(-11 197.4 806.0)">版本</text>
<text x="209.0" y="811.1" font-size="6.0" font-weight="500" fill="#bc8198" transform="rotate(-4 209.0 806.0)">口感</text>
<text x="2.9" y="814.8" font-size="4.1" font-weight="500" fill="#c58d59" transform="rotate(-7 2.9 811.3)">设计</text>
<text x="12.2" y="815.4" font-size="4.8" font-weight="500" fill="#d18f5e" transform="rotate(-9 12.2 811.3)">美团</text>
<text x="22.5" y="814.8" font-size="4.1" font-weight="500" fill="#c38f5a" transform="rotate(-1 22.5 811.3)">版本</text>
<text x="31.9" y="816.6" font-size="6.2" font-weight="500" fill="#c08348" transform="rotate(6 31.9 811.3)">信息</text>
<text x="45.1" y="816.0" font-size="5.5" font-weight="500" fill="#af7b37" transform="rotate(-3 45.1 811.3)">甜品</text>
<text x="57.3" y="816.0" font-size="5.5" font-weight="500" fill="#bb9258" transform="rotate(-0 57.3 811.3)">中国</text>
<text x="69.1" y="816.6" font-size="6.2" font-weight="500" fill="#c38b4e" transform="rotate(7 69.1 811.3)">下午</text>
<text x="82.5" y="814.8" font-size="4.1" font-weight="500" fill="#b7945a" transform="rotate(5 82.5 811.3)">价格</text>
<text x="91.2" y="815.4" font-size="4.8" font-weight="500" fill="#bf9d67" transform="rotate(-5 91.2 811.3)">体验</text>
<text x="102.0" y="815.4" font-size="4.8" font-weight="500" fill="#9c8946" transform="rotate(1 102.0 811.3)">服务</text>
<text x="112.1" y="815.4" font-size="4.8" font-weight="500" fill="#b2985e" transform="rotate(4 112.1 811.3)">优惠</text>
<text x="122.7" y="815.4" font-size="4.8" font-weight="500" fill="#b49e69" transform="rotate(8 122.7 811.3)">门店</text>
<text x="132.9" y="816.0" font-size="5.5" font-weight="500" fill="#c6af85" transform="rotate(0 132.9 811.3)">中国</text>
<text x="144.8" y="815.4" font-size="4.8" font-weight="500" fill="#c5ab81" transform="rotate(-1 144.8 811.3)">信息</text>
<text x="155.3" y="816.0" font-size="5.5" font-weight="500" fill="#b28d63" transform="rotate(2 155.3 811.3)">文化</text>
<text x="167.2" y="815.4" font-size="4.8" font-weight="500" fill="#c19588" transform="rotate(3 167.2 811.3)">起来</text>
<text x="177.8" y="815.4" font-size="4.8" font-weight="500" fill="#ac7674" transform="rotate(4 177.8 811.3)">推荐</text>
<text x="187.9" y="815.4" font-size="4.8" font-weight="500" fill="#ac8482" transform="rotate(-1 187.9 811.3)">限定</text>
<text x="198.0" y="815.4" font-size="4.8" font-weight="500" fill="#c5879b" transform="rotate(-0 198.0 811.3)">快乐</text>
<text x="208.4" y="816.0" font-size="5.5" font-weight="500" fill="#c08b9e" transform="rotate(-10 208.4 811.3)">起来</text>
<text x="2.0" y="820.5" font-size="5.1" font-weight="500" fill="#d29768" transform="rotate(1 2.0 816.2)">美式</text>
<text x="13.3" y="821.1" font-size="5.7" font-weight="500" fill="#b87636" transform="rotate(0 13.3 816.2)">下午</text>
<text x="25.9" y="819.9" font-size="4.4" font-weight="500" fill="#c6915d" transform="rotate(8 25.9 816.2)">甜品</text>
<text x="35.6" y="820.5" font-size="5.1" font-weight="500" fill="#bd7939" transform="rotate(2 35.6 816.2)">实习</text>
<text x="46.8" y="821.1" font-size="5.7" font-weight="500" fill="#c37e3f" transform="rotate(4 46.8 816.2)">时间</text>
<text x="58.9" y="821.1" font-size="5.7" font-weight="500" fill="#c89b67" transform="rotate(-4 58.9 816.2)">奶茶</text>
<text x="71.5" y="820.5" font-size="5.1" font-weight="500" fill="#cb9259" transform="rotate(-0 71.5 816.2)">美团</text>
<text x="82.3" y="820.5" font-size="5.1" font-weight="500" fill="#c09055" transform="rotate(-8 82.3 816.2)">市集</text>
<text x="93.3" y="819.9" font-size="4.4" font-weight="500" fill="#ad8c4d" transform="rotate(-4 93.3 816.2)">城市</text>
<text x="103.3" y="819.9" font-size="4.4" font-weight="500" fill="#8c7629" transform="rotate(4 103.3 816.2)">体验</text>
<text x="113.2" y="819.9" font-size="4.4" font-weight="500" fill="#88772a" transform="rotate(-3 113.2 816.2)">计划</text>
<text x="122.7" y="819.9" font-size="4.4" font-weight="500" fill="#9e8948" transform="rotate(-11 122.7 816.2)">朋友圈</text>
<text x="136.7" y="819.9" font-size="4.4" font-weight="500" fill="#a99055" transform="rotate(-1 136.7 816.2)">版本</text>
<text x="146.4" y="819.4" font-size="3.7" font-weight="500" fill="#8f7a35" transform="rotate(-5 146.4 816.2)">豆子</text>
<text x="154.8" y="819.9" font-size="4.4" font-weight="500" fill="#a69264" transform="rotate(-4 154.8 816.2)">门口</text>
<text x="164.5" y="819.9" font-size="4.4" font-weight="500" fill="#9c7354" transform="rotate(-1 164.5 816.2)">拉花</text>
<text x="174.4" y="821.1" font-size="5.7" font-weight="500" fill="#ab7672" transform="rotate(7 174.4 816.2)">限定</text>
<text x="186.7" y="820.5" font-size="5.1" font-weight="500" fill="#cd9ea6" transform="rotate(-1 186.7 816.2)">联名</text>
<text x="197.7" y="819.9" font-size="4.4" font-weight="500" fill="#c39aa3" transform="rotate(6 197.7 816.2)">文化</text>
<text x="207.1" y="820.5" font-size="5.1" font-weight="500" fill="#c493a4" transform="rotate(-1 207.1 816.2)">咖啡</text>
<text x="4.9" y="824.1" font-size="4.0" font-weight="500" fill="#c2834b" transform="rotate(1 4.9 820.7)">环境</text>
<text x="13.2" y="824.1" font-size="4.0" font-weight="500" fill="#ae6f2c" transform="rotate(-10 13.2 820.7)">海派</text>
<text x="22.4" y="824.6" font-size="4.6" font-weight="500" fill="#dca279" transform="rotate(5 22.4 820.7)">蛋糕</text>
<text x="31.9" y="824.1" font-size="4.0" font-weight="500" fill="#cf915e" transform="rotate(-9 31.9 820.7)">培训</text>
<text x="41.0" y="824.6" font-size="4.6" font-weight="500" fill="#bd7a3a" transform="rotate(-2 41.0 820.7)">甜品</text>
<text x="50.7" y="824.1" font-size="4.0" font-weight="500" fill="#a36a1d" transform="rotate(-3 50.7 820.7)">排队</text>
<text x="59.0" y="825.1" font-size="5.2" font-weight="500" fill="#c89159" transform="rotate(9 59.0 820.7)">网红</text>
<text x="69.8" y="823.6" font-size="3.4" font-weight="500" fill="#bb8543" transform="rotate(-0 69.8 820.7)">咖啡厅</text>
<text x="81.2" y="823.6" font-size="3.4" font-weight="500" fill="#a4782e" transform="rotate(2 81.2 820.7)">实习</text>
<text x="88.9" y="825.1" font-size="5.2" font-weight="500" fill="#a98948" transform="rotate(-10 88.9 820.7)">甜品</text>
<text x="99.8" y="824.1" font-size="4.0" font-weight="500" fill="#a08845" transform="rotate(-6 99.8 820.7)">梧桐</text>
<text x="108.4" y="824.6" font-size="4.6" font-weight="500" fill="#a88a49" transform="rotate(4 108.4 820.7)">城市</text>
<text x="118.0" y="823.6" font-size="3.4" font-weight="500" fill="#897a2e" transform="rotate(2 118.0 820.7)">优惠</text>
<text x="125.3" y="824.6" font-size="4.6" font-weight="500" fill="#aa9e68" transform="rotate(1 125.3 820.7)">拿铁</text>
<text x="135.3" y="823.6" font-size="3.4" font-weight="500" fill="#c3aa7f" transform="rotate(-2 135.3 820.7)">喜欢</text>
<text x="143.1" y="823.6" font-size="3.4" font-weight="500" fill="#b29059" transform="rotate(-0 143.1 820.7)">街区</text>
<text x="150.4" y="825.1" font-size="5.2" font-weight="500" fill="#b79968" transform="rotate(-5 150.4 820.7)">新店</text>
<text x="162.0" y="824.1" font-size="4.0" font-weight="500" fill="#b6977c" transform="rotate(5 162.0 820.7)">市集</text>
<text x="170.6" y="824.6" font-size="4.6" font-weight="500" fill="#bc998e" transform="rotate(-11 170.6 820.7)">甜品</text>
<text x="181.0" y="824.1" font-size="4.0" font-weight="500" fill="#a57974" transform="rotate(-11 181.0 820.7)">学校</text>
<text x="189.5" y="824.6" font-size="4.6" font-weight="500" fill="#c2989d" transform="rotate(6 189.5 820.7)">生活</text>
<text x="199.0" y="824.1" font-size="4.0" font-weight="500" fill="#c89da8" transform="rotate(-2 199.0 820.7)">探店</text>
<text x="207.7" y="824.1" font-size="4.0" font-weight="500" fill="#a67682" transform="rotate(-3 207.7 820.7)">工作</text>
<text x="2.9" y="828.8" font-size="4.8" font-weight="500" fill="#cf9261" transform="rotate(-11 2.9 824.8)">美式</text>
<text x="13.6" y="828.8" font-size="4.8" font-weight="500" fill="#ae712e" transform="rotate(-11 13.6 824.8)">门店</text>
<text x="23.9" y="828.2" font-size="4.1" font-weight="500" fill="#c38d57" transform="rotate(-1 23.9 824.8)">版本</text>
<text x="32.6" y="828.2" font-size="4.1" font-weight="500" fill="#a76d25" transform="rotate(-6 32.6 824.8)">杭州</text>
<text x="41.1" y="828.8" font-size="4.8" font-weight="500" fill="#b9874c" transform="rotate(-3 41.1 824.8)">展示</text>
<text x="51.1" y="829.5" font-size="5.5" font-weight="500" fill="#ac732b" transform="rotate(4 51.1 824.8)">咖啡节</text>
<text x="68.8" y="830.1" font-size="6.2" font-weight="500" fill="#cc9259" transform="rotate(-12 68.8 824.8)">氛围感</text>
<text x="87.9" y="829.5" font-size="5.5" font-weight="500" fill="#967527" transform="rotate(8 87.9 824.8)">徐汇</text>
<text x="100.0" y="828.8" font-size="4.8" font-weight="500" fill="#c0a574" transform="rotate(-6 100.0 824.8)">美团</text>
<text x="110.6" y="829.5" font-size="5.5" font-weight="500" fill="#8f7a2e" transform="rotate(-11 110.6 824.8)">品牌</text>
<text x="122.3" y="828.2" font-size="4.1" font-weight="500" fill="#9c8846" transform="rotate(-5 122.3 824.8)">网红</text>
<text x="130.8" y="828.8" font-size="4.8" font-weight="500" fill="#a08849" transform="rotate(-2 130.8 824.8)">打卡</text>
<text x="141.2" y="828.8" font-size="4.8" font-weight="500" fill="#a69861" transform="rotate(12 141.2 824.8)">自己</text>
<text x="151.2" y="828.8" font-size="4.8" font-weight="500" fill="#b09968" transform="rotate(-3 151.2 824.8)">日常</text>
<text x="161.5" y="829.5" font-size="5.5" font-weight="500" fill="#a58764" transform="rotate(-12 161.5 824.8)">静安</text>
<text x="173.5" y="829.5" font-size="5.5" font-weight="500" fill="#d0a0a3" transform="rotate(1 173.5 824.8)">联名</text>
<text x="185.0" y="828.2" font-size="4.1" font-weight="500" fill="#b78e8e" transform="rotate(-2 185.0 824.8)">分享</text>
<text x="193.6" y="828.2" font-size="4.1" font-weight="500" fill="#c18d98" transform="rotate(7 193.6 824.8)">口感</text>
<text x="202.9" y="828.8" font-size="4.8" font-weight="500" fill="#b68291" transform="rotate(-6 202.9 824.8)">优惠</text>
<text x="213.4" y="828.8" font-size="4.8" font-weight="500" fill="#d2a4b8" transform="rotate(-10 213.4 824.8)">虹桥</text>
<text x="6.5" y="833.7" font-size="4.8" font-weight="500" fill="#c3854e" transform="rotate(8 6.5 829.7)">氛围</text>
<text x="17.0" y="833.1" font-size="4.1" font-weight="500" fill="#c08750" transform="rotate(7 17.0 829.7)">美食</text>
<text x="25.8" y="833.7" font-size="4.8" font-weight="500" fill="#ab6921" transform="rotate(-6 25.8 829.7)">饮品</text>
<text x="36.3" y="833.1" font-size="4.1" font-weight="500" fill="#c27a3b" transform="rotate(1 36.3 829.7)">氛围</text>
<text x="44.8" y="833.7" font-size="4.8" font-weight="500" fill="#c4935e" transform="rotate(-6 44.8 829.7)">快乐</text>
<text x="55.6" y="833.7" font-size="4.8" font-weight="500" fill="#b0813f" transform="rotate(-7 55.6 829.7)">美食</text>
<text x="65.8" y="835.0" font-size="6.2" font-weight="500" fill="#b38747" transform="rotate(12 65.8 829.7)">杭州</text>
<text x="78.8" y="833.7" font-size="4.8" font-weight="500" fill="#ae8949" transform="rotate(6 78.8 829.7)">豆子</text>
<text x="89.1" y="833.1" font-size="4.1" font-weight="500" fill="#ab8643" transform="rotate(-7 89.1 829.7)">下午茶</text>
<text x="102.2" y="834.4" font-size="5.5" font-weight="500" fill="#a6833e" transform="rotate(-8 102.2 829.7)">信息</text>
<text x="113.9" y="835.0" font-size="6.2" font-weight="500" fill="#867527" transform="rotate(8 113.9 829.7)">体验</text>
<text x="127.3" y="833.1" font-size="4.1" font-weight="500" fill="#9d8442" transform="rotate(-0 127.3 829.7)">视频</text>
<text x="136.6" y="834.4" font-size="5.5" font-weight="500" fill="#998543" transform="rotate(-7 136.6 829.7)">维修</text>
<text x="148.4" y="833.7" font-size="4.8" font-weight="500" fill="#b69865" transform="rotate(8 148.4 829.7)">公司</text>
<text x="158.9" y="835.0" font-size="6.2" font-weight="500" fill="#ab8c67" transform="rotate(-9 158.9 829.7)">网红</text>
<text x="171.9" y="833.1" font-size="4.1" font-weight="500" fill="#a67368" transform="rotate(6 171.9 829.7)">拍照</text>
<text x="180.6" y="833.7" font-size="4.8" font-weight="500" fill="#b68586" transform="rotate(1 180.6 829.7)">美好</text>
<text x="190.6" y="834.4" font-size="5.5" font-weight="500" fill="#b08889" transform="rotate(3 190.6 829.7)">美好</text>
<text x="202.5" y="833.1" font-size="4.1" font-weight="500" fill="#a4797f" transform="rotate(-5 202.5 829.7)">喜欢</text>
<text x="211.3" y="835.0" font-size="6.2" font-weight="500" fill="#be93a2" transform="rotate(12 211.3 829.7)">探店</text>
<text x="6.0" y="839.6" font-size="6.0" font-weight="500" fill="#c57f46" transform="rotate(4 6.0 834.6)">外滩</text>
<text x="18.8" y="839.0" font-size="5.2" font-weight="500" fill="#a9671f" transform="rotate(-3 18.8 834.6)">氛围</text>
<text x="30.0" y="839.6" font-size="6.0" font-weight="500" fill="#cf8750" transform="rotate(-5 30.0 834.6)">安福路</text>
<text x="48.9" y="838.3" font-size="4.4" font-weight="500" fill="#ca9661" transform="rotate(11 48.9 834.6)">日常</text>
<text x="58.8" y="840.3" font-size="6.8" font-weight="500" fill="#b58748" transform="rotate(0 58.8 834.6)">联名</text>
<text x="73.4" y="839.0" font-size="5.2" font-weight="500" fill="#c79f6b" transform="rotate(-3 73.4 834.6)">朋友</text>
<text x="84.1" y="839.6" font-size="6.0" font-weight="500" fill="#b28441" transform="rotate(10 84.1 834.6)">喜欢</text>
<text x="97.2" y="839.0" font-size="5.2" font-weight="500" fill="#9c823b" transform="rotate(5 97.2 834.6)">门口</text>
<text x="108.4" y="839.0" font-size="5.2" font-weight="500" fill="#917e34" transform="rotate(-5 108.4 834.6)">咖啡节</text>
<text x="125.0" y="840.3" font-size="6.8" font-weight="500" fill="#ae8f53" transform="rotate(-10 125.0 834.6)">外滩</text>
<text x="139.2" y="839.0" font-size="5.2" font-weight="500" fill="#b29c69" transform="rotate(3 139.2 834.6)">升级</text>
<text x="150.5" y="839.6" font-size="6.0" font-weight="500" fill="#a9915a" transform="rotate(1 150.5 834.6)">特色</text>
<text x="163.6" y="839.6" font-size="6.0" font-weight="500" fill="#b1866d" transform="rotate(11 163.6 834.6)">餐厅</text>
<text x="176.0" y="839.0" font-size="5.2" font-weight="500" fill="#af7676" transform="rotate(2 176.0 834.6)">推荐</text>
<text x="186.9" y="839.0" font-size="5.2" font-weight="500" fill="#c08f96" transform="rotate(5 186.9 834.6)">星巴克</text>
<text x="203.4" y="839.6" font-size="6.0" font-weight="500" fill="#b47e8d" transform="rotate(-10 203.4 834.6)">网红</text>
<text x="5.9" y="845.2" font-size="6.2" font-weight="500" fill="#ca9260" transform="rotate(-10 5.9 839.9)">活动</text>
<text x="18.8" y="843.3" font-size="4.1" font-weight="500" fill="#ac6922" transform="rotate(3 18.8 839.9)">杭州</text>
<text x="27.4" y="844.6" font-size="5.5" font-weight="500" fill="#d29565" transform="rotate(7 27.4 839.9)">安福路</text>
<text x="44.9" y="845.2" font-size="6.2" font-weight="500" fill="#d39664" transform="rotate(-10 44.9 839.9)">下午</text>
<text x="57.8" y="843.9" font-size="4.8" font-weight="500" fill="#b17933" transform="rotate(-1 57.8 839.9)">今天</text>
<text x="68.3" y="843.3" font-size="4.1" font-weight="500" fill="#c88a4d" transform="rotate(-1 68.3 839.9)">街区</text>
<text x="76.7" y="843.9" font-size="4.8" font-weight="500" fill="#9a7021" transform="rotate(-3 76.7 839.9)">烘焙</text>
<text x="86.9" y="843.3" font-size="4.1" font-weight="500" fill="#c3975f" transform="rotate(5 86.9 839.9)">街区</text>
<text x="95.4" y="844.6" font-size="5.5" font-weight="500" fill="#c5a777" transform="rotate(-7 95.4 839.9)">弄堂</text>
<text x="107.1" y="843.9" font-size="4.8" font-weight="500" fill="#baa371" transform="rotate(6 107.1 839.9)">城市</text>
<text x="117.0" y="843.9" font-size="4.8" font-weight="500" fill="#b49a62" transform="rotate(-10 117.0 839.9)">团购</text>
<text x="127.3" y="844.6" font-size="5.5" font-weight="500" fill="#b0a26f" transform="rotate(5 127.3 839.9)">大家</text>
<text x="138.8" y="845.2" font-size="6.2" font-weight="500" fill="#bd9f6e" transform="rotate(1 138.8 839.9)">工作</text>
<text x="151.9" y="843.3" font-size="4.1" font-weight="500" fill="#9f8a53" transform="rotate(-10 151.9 839.9)">计划</text>
<text x="161.1" y="843.9" font-size="4.8" font-weight="500" fill="#aa9170" transform="rotate(1 161.1 839.9)">城市</text>
<text x="171.9" y="843.3" font-size="4.1" font-weight="500" fill="#9d6d5f" transform="rotate(11 171.9 839.9)">人均</text>
<text x="180.7" y="845.2" font-size="6.2" font-weight="500" fill="#a36f6d" transform="rotate(11 180.7 839.9)">探店</text>
<text x="194.1" y="843.3" font-size="4.1" font-weight="500" fill="#ab747c" transform="rotate(7 194.1 839.9)">地址</text>
<text x="203.0" y="845.2" font-size="6.2" font-weight="500" fill="#ae878d" transform="rotate(-11 203.0 839.9)">拉花</text>
<text x="6.9" y="849.5" font-size="5.5" font-weight="500" fill="#c8763a" transform="rotate(-8 6.9 844.8)">咖啡厅</text>
<text x="24.0" y="848.8" font-size="4.8" font-weight="500" fill="#d38c58" transform="rotate(12 24.0 844.8)">餐厅</text>
<text x="34.1" y="848.8" font-size="4.8" font-weight="500" fill="#bb7b3b" transform="rotate(-5 34.1 844.8)">起来</text>
<text x="44.6" y="848.8" font-size="4.8" font-weight="500" fill="#b7894d" transform="rotate(4 44.6 844.8)">培训</text>
<text x="54.6" y="848.8" font-size="4.8" font-weight="500" fill="#a37024" transform="rotate(8 54.6 844.8)">开始</text>
<text x="65.3" y="849.5" font-size="5.5" font-weight="500" fill="#a87429" transform="rotate(10 65.3 844.8)">烘焙</text>
<text x="77.5" y="848.2" font-size="4.1" font-weight="500" fill="#ad7d36" transform="rotate(-6 77.5 844.8)">推荐</text>
<text x="86.7" y="848.8" font-size="4.8" font-weight="500" fill="#af9154" transform="rotate(0 86.7 844.8)">实习</text>
<text x="97.4" y="850.1" font-size="6.2" font-weight="500" fill="#927528" transform="rotate(3 97.4 844.8)">新店</text>
<text x="110.5" y="849.5" font-size="5.5" font-weight="500" fill="#a79255" transform="rotate(9 110.5 844.8)">实习</text>
<text x="122.8" y="848.8" font-size="4.8" font-weight="500" fill="#837426" transform="rotate(-3 122.8 844.8)">时间</text>
<text x="132.9" y="848.2" font-size="4.1" font-weight="500" fill="#a7894b" transform="rotate(-2 132.9 844.8)">优惠</text>
<text x="141.8" y="848.8" font-size="4.8" font-weight="500" fill="#a59760" transform="rotate(0 141.8 844.8)">门口</text>
<text x="151.7" y="848.8" font-size="4.8" font-weight="500" fill="#b8a075" transform="rotate(-1 151.7 844.8)">喜欢</text>
<text x="161.7" y="848.8" font-size="4.8" font-weight="500" fill="#ab8c6c" transform="rotate(2 161.7 844.8)">培训</text>
<text x="172.1" y="849.5" font-size="5.5" font-weight="500" fill="#a37769" transform="rotate(10 172.1 844.8)">喜欢</text>
<text x="183.6" y="848.2" font-size="4.1" font-weight="500" fill="#bf9295" transform="rotate(-3 183.6 844.8)">上海人</text>
<text x="196.9" y="850.1" font-size="6.2" font-weight="500" fill="#b4838c" transform="rotate(-1 196.9 844.8)">餐厅</text>
<text x="209.8" y="850.1" font-size="6.2" font-weight="500" fill="#c191a3" transform="rotate(-11 209.8 844.8)">咖啡</text>
<text x="4.1" y="852.7" font-size="3.6" font-weight="500" fill="#ca915f" transform="rotate(-9 4.1 849.7)">好喝</text>
<text x="11.7" y="852.3" font-size="3.1" font-weight="500" fill="#c2864f" transform="rotate(3 11.7 849.7)">酒店</text>
<text x="18.3" y="853.6" font-size="4.7" font-weight="500" fill="#c99361" transform="rotate(10 18.3 849.7)">享受</text>
<text x="28.1" y="853.6" font-size="4.7" font-weight="500" fill="#c37839" transform="rotate(1 28.1 849.7)">时间</text>
<text x="37.8" y="853.6" font-size="4.7" font-weight="500" fill="#ce8e59" transform="rotate(-11 37.8 849.7)">生活</text>
<text x="48.0" y="853.2" font-size="4.1" font-weight="500" fill="#c8935d" transform="rotate(3 48.0 849.7)">培训</text>
<text x="56.8" y="852.3" font-size="3.1" font-weight="500" fill="#ca9660" transform="rotate(2 56.8 849.7)">新店</text>
<text x="63.2" y="853.2" font-size="4.1" font-weight="500" fill="#b98240" transform="rotate(1 63.2 849.7)">咖啡节</text>
<text x="76.7" y="852.7" font-size="3.6" font-weight="500" fill="#b98240" transform="rotate(-6 76.7 849.7)">氛围感</text>
<text x="88.1" y="852.7" font-size="3.6" font-weight="500" fill="#c2975f" transform="rotate(-1 88.1 849.7)">咖啡</text>
<text x="95.7" y="852.7" font-size="3.6" font-weight="500" fill="#ae8a4a" transform="rotate(-1 95.7 849.7)">学校</text>
<text x="103.3" y="853.2" font-size="4.1" font-weight="500" fill="#aa8e50" transform="rotate(-3 103.3 849.7)">自己</text>
<text x="112.1" y="852.7" font-size="3.6" font-weight="500" fill="#ab985e" transform="rotate(2 112.1 849.7)">体验</text>
<text x="120.4" y="853.2" font-size="4.1" font-weight="500" fill="#9f8a49" transform="rotate(1 120.4 849.7)">城市</text>
<text x="129.8" y="852.7" font-size="3.6" font-weight="500" fill="#ab9861" transform="rotate(7 129.8 849.7)">朋友圈</text>
<text x="141.7" y="853.6" font-size="4.7" font-weight="500" fill="#96803e" transform="rotate(-3 141.7 849.7)">甜品</text>
<text x="152.1" y="853.2" font-size="4.1" font-weight="500" fill="#b79c70" transform="rotate(11 152.1 849.7)">享受</text>
<text x="160.8" y="852.3" font-size="3.1" font-weight="500" fill="#9d7f58" transform="rotate(3 160.8 849.7)">静安</text>
<text x="168.0" y="852.7" font-size="3.6" font-weight="500" fill="#bc8379" transform="rotate(-3 168.0 849.7)">手冲</text>
<text x="176.1" y="852.7" font-size="3.6" font-weight="500" fill="#bc7d82" transform="rotate(9 176.1 849.7)">文化</text>
<text x="183.8" y="852.7" font-size="3.6" font-weight="500" fill="#c48c95" transform="rotate(-10 183.8 849.7)">甜品</text>
<text x="191.6" y="852.3" font-size="3.1" font-weight="500" fill="#cda1ab" transform="rotate(10 191.6 849.7)">升级</text>
<text x="198.5" y="853.2" font-size="4.1" font-weight="500" fill="#ae8188" transform="rotate(-11 198.5 849.7)">疫情</text>
<text x="207.6" y="852.3" font-size="3.1" font-weight="500" fill="#bb909d" transform="rotate(-3 207.6 849.7)">甜品</text>
<text x="2.6" y="858.6" font-size="6.2" font-weight="500" fill="#b57c3e" transform="rotate(12 2.6 853.3)">团购</text>
<text x="15.9" y="856.8" font-size="4.1" font-weight="500" fill="#c17b3f" transform="rotate(11 15.9 853.3)">咖啡厅</text>
<text x="28.8" y="858.6" font-size="6.2" font-weight="500" fill="#c1935e" transform="rotate(4 28.8 853.3)">视频</text>
<text x="41.8" y="857.4" font-size="4.8" font-weight="500" fill="#cf9b6a" transform="rotate(-10 41.8 853.3)">星巴克</text>
<text x="56.7" y="858.0" font-size="5.5" font-weight="500" fill="#bb8241" transform="rotate(7 56.7 853.3)">氛围感</text>
<text x="74.2" y="857.4" font-size="4.8" font-weight="500" fill="#b7803c" transform="rotate(-1 74.2 853.3)">酒店</text>
<text x="84.4" y="858.6" font-size="6.2" font-weight="500" fill="#ae7f3a" transform="rotate(-1 84.4 853.3)">市集</text>
<text x="98.1" y="856.8" font-size="4.1" font-weight="500" fill="#a28744" transform="rotate(-6 98.1 853.3)">静安</text>
<text x="107.1" y="858.0" font-size="5.5" font-weight="500" fill="#a08743" transform="rotate(4 107.1 853.3)">文化</text>
<text x="119.2" y="856.8" font-size="4.1" font-weight="500" fill="#af955a" transform="rotate(3 119.2 853.3)">分享</text>
<text x="128.2" y="858.6" font-size="6.2" font-weight="500" fill="#a88c4f" transform="rotate(-4 128.2 853.3)">特色</text>
<text x="141.6" y="858.0" font-size="5.5" font-weight="500" fill="#b7a374" transform="rotate(2 141.6 853.3)">设计</text>
<text x="153.4" y="857.4" font-size="4.8" font-weight="500" fill="#a1844f" transform="rotate(-2 153.4 853.3)">网红</text>
<text x="164.2" y="857.4" font-size="4.8" font-weight="500" fill="#c09885" transform="rotate(5 164.2 853.3)">饮品</text>
<text x="174.1" y="857.4" font-size="4.8" font-weight="500" fill="#bf9894" transform="rotate(-5 174.1 853.3)">杭州</text>
<text x="184.8" y="858.0" font-size="5.5" font-weight="500" fill="#bd868d" transform="rotate(0 184.8 853.3)">拉花</text>
<text x="196.7" y="856.8" font-size="4.1" font-weight="500" fill="#b27c87" transform="rotate(-12 196.7 853.3)">门口</text>
<text x="205.9" y="858.0" font-size="5.5" font-weight="500" fill="#b59198" transform="rotate(1 205.9 853.3)">静安</text>
<text x="6.4" y="862.2" font-size="4.7" font-weight="500" fill="#cc8048" transform="rotate(4 6.4 858.2)">信息</text>
<text x="16.4" y="861.3" font-size="3.6" font-weight="500" fill="#d69363" transform="rotate(-7 16.4 858.2)">氛围感</text>
<text x="27.7" y="862.2" font-size="4.7" font-weight="500" fill="#c28146" transform="rotate(-7 27.7 858.2)">今天</text>
<text x="37.5" y="862.2" font-size="4.7" font-weight="500" fill="#cd8f5a" transform="rotate(7 37.5 858.2)">朋友圈</text>
<text x="52.5" y="862.2" font-size="4.7" font-weight="500" fill="#ba8f55" transform="rotate(-11 52.5 858.2)">享受</text>
<text x="62.2" y="861.3" font-size="3.6" font-weight="500" fill="#b27830" transform="rotate(-1 62.2 858.2)">静安</text>
<text x="70.4" y="861.3" font-size="3.6" font-weight="500" fill="#aa803b" transform="rotate(7 70.4 858.2)">分享</text>
<text x="78.6" y="861.7" font-size="4.1" font-weight="500" fill="#c39b66" transform="rotate(5 78.6 858.2)">排队</text>
<text x="87.9" y="861.3" font-size="3.6" font-weight="500" fill="#b78442" transform="rotate(12 87.9 858.2)">排队</text>
<text x="95.6" y="861.3" font-size="3.6" font-weight="500" fill="#a88440" transform="rotate(9 95.6 858.2)">今天</text>
<text x="103.2" y="860.8" font-size="3.1" font-weight="500" fill="#8a7323" transform="rotate(-7 103.2 858.2)">维修</text>
<text x="110.5" y="861.3" font-size="3.6" font-weight="500" fill="#a39458" transform="rotate(-3 110.5 858.2)">维修</text>
<text x="118.1" y="861.7" font-size="4.1" font-weight="500" fill="#a79b63" transform="rotate(11 118.1 858.2)">饮品</text>
<text x="126.9" y="861.3" font-size="3.6" font-weight="500" fill="#bba371" transform="rotate(4 126.9 858.2)">好吃</text>
<text x="135.1" y="861.7" font-size="4.1" font-weight="500" fill="#b09e6a" transform="rotate(4 135.1 858.2)">活动</text>
<text x="144.3" y="861.7" font-size="4.1" font-weight="500" fill="#a99862" transform="rotate(2 144.3 858.2)">咖啡节</text>
<text x="157.7" y="860.8" font-size="3.1" font-weight="500" fill="#a9865d" transform="rotate(8 157.7 858.2)">静安</text>
<text x="164.4" y="862.2" font-size="4.7" font-weight="500" fill="#bd917e" transform="rotate(3 164.4 858.2)">工作</text>
<text x="174.2" y="861.3" font-size="3.6" font-weight="500" fill="#cb989b" transform="rotate(6 174.2 858.2)">特色</text>
<text x="182.4" y="861.3" font-size="3.6" font-weight="500" fill="#cb98a0" transform="rotate(-0 182.4 858.2)">拿铁</text>
<text x="190.2" y="862.2" font-size="4.7" font-weight="500" fill="#c58c99" transform="rotate(-6 190.2 858.2)">网红</text>
<text x="200.4" y="862.2" font-size="4.7" font-weight="500" fill="#c49da5" transform="rotate(-3 200.4 858.2)">蛋糕</text>
<text x="210.5" y="861.3" font-size="3.6" font-weight="500" fill="#ae848f" transform="rotate(0 210.5 858.2)">美食</text>
<text x="3.3" y="866.0" font-size="4.8" font-weight="500" fill="#c5783b" transform="rotate(-2 3.3 861.9)">烘焙</text>
<text x="13.5" y="865.4" font-size="4.1" font-weight="500" fill="#c77f46" transform="rotate(-9 13.5 861.9)">静安</text>
<text x="22.4" y="865.4" font-size="4.1" font-weight="500" fill="#ba712f" transform="rotate(-1 22.4 861.9)">自己</text>
<text x="31.3" y="866.6" font-size="5.5" font-weight="500" fill="#bb7b3b" transform="rotate(-10 31.3 861.9)">版本</text>
<text x="43.2" y="866.0" font-size="4.8" font-weight="500" fill="#ca9763" transform="rotate(-10 43.2 861.9)">计划</text>
<text x="53.5" y="865.4" font-size="4.1" font-weight="500" fill="#bb7d3b" transform="rotate(-2 53.5 861.9)">开始</text>
<text x="62.8" y="866.0" font-size="4.8" font-weight="500" fill="#bf9055" transform="rotate(-10 62.8 861.9)">视频</text>
<text x="73.5" y="865.4" font-size="4.1" font-weight="500" fill="#bd9156" transform="rotate(9 73.5 861.9)">奶茶</text>
<text x="82.0" y="866.0" font-size="4.8" font-weight="500" fill="#af8440" transform="rotate(9 82.0 861.9)">活动</text>
<text x="92.4" y="867.2" font-size="6.2" font-weight="500" fill="#a67e38" transform="rotate(9 92.4 861.9)">地址</text>
<text x="105.5" y="867.2" font-size="6.2" font-weight="500" fill="#c0a370" transform="rotate(-9 105.5 861.9)">美好</text>
<text x="118.4" y="865.4" font-size="4.1" font-weight="500" fill="#9b8846" transform="rotate(2 118.4 861.9)">奶茶</text>
<text x="127.4" y="865.4" font-size="4.1" font-weight="500" fill="#b0975f" transform="rotate(-11 127.4 861.9)">中国</text>
<text x="135.9" y="865.4" font-size="4.1" font-weight="500" fill="#8b7a32" transform="rotate(3 135.9 861.9)">梧桐</text>
<text x="144.6" y="866.0" font-size="4.8" font-weight="500" fill="#9d8343" transform="rotate(-8 144.6 861.9)">价格</text>
<text x="154.8" y="867.2" font-size="6.2" font-weight="500" fill="#ad9367" transform="rotate(-1 154.8 861.9)">联名</text>
<text x="168.0" y="866.0" font-size="4.8" font-weight="500" fill="#c49087" transform="rotate(8 168.0 861.9)">打卡</text>
<text x="178.0" y="866.0" font-size="4.8" font-weight="500" fill="#bf878b" transform="rotate(11 178.0 861.9)">咖啡杯</text>
<text x="193.6" y="866.6" font-size="5.5" font-weight="500" fill="#d3a2b0" transform="rotate(-9 193.6 861.9)">喜欢</text>
<text x="205.6" y="867.2" font-size="6.2" font-weight="500" fill="#b38691" transform="rotate(-8 205.6 861.9)">海派</text>
<text x="3.9" y="871.5" font-size="5.5" font-weight="500" fill="#cd9566" transform="rotate(-9 3.9 866.8)">版本</text>
<text x="15.6" y="870.9" font-size="4.8" font-weight="500" fill="#be854c" transform="rotate(-0 15.6 866.8)">星巴克</text>
<text x="30.8" y="870.3" font-size="4.1" font-weight="500" fill="#d39c6d" transform="rotate(-5 30.8 866.8)">店铺</text>
<text x="39.6" y="870.9" font-size="4.8" font-weight="500" fill="#cb8348" transform="rotate(-11 39.6 866.8)">门口</text>
<text x="49.9" y="871.5" font-size="5.5" font-weight="500" fill="#ae7f3c" transform="rotate(-7 49.9 866.8)">新品</text>
<text x="62.1" y="870.9" font-size="4.8" font-weight="500" fill="#b47c38" transform="rotate(-11 62.1 866.8)">浦东</text>
<text x="72.2" y="870.3" font-size="4.1" font-weight="500" fill="#c09b64" transform="rotate(-6 72.2 866.8)">星巴克</text>
<text x="84.7" y="872.1" font-size="6.2" font-weight="500" fill="#caa473" transform="rotate(7 84.7 866.8)">团购</text>
<text x="97.8" y="870.9" font-size="4.8" font-weight="500" fill="#a48541" transform="rotate(-6 97.8 866.8)">信息</text>
<text x="108.5" y="870.9" font-size="4.8" font-weight="500" fill="#9d8a48" transform="rotate(-11 108.5 866.8)">上海</text>
<text x="119.1" y="872.1" font-size="6.2" font-weight="500" fill="#a48c4d" transform="rotate(-10 119.1 866.8)">梧桐</text>
<text x="132.3" y="870.9" font-size="4.8" font-weight="500" fill="#8b782f" transform="rotate(6 132.3 866.8)">联名</text>
<text x="143.0" y="870.9" font-size="4.8" font-weight="500" fill="#a98e55" transform="rotate(-12 143.0 866.8)">心动</text>
<text x="153.6" y="872.1" font-size="6.2" font-weight="500" fill="#bca57f" transform="rotate(-4 153.6 866.8)">咖啡</text>
<text x="166.6" y="872.1" font-size="6.2" font-weight="500" fill="#a07a60" transform="rotate(-12 166.6 866.8)">学校</text>
<text x="179.9" y="870.3" font-size="4.1" font-weight="500" fill="#aa807b" transform="rotate(-6 179.9 866.8)">活动</text>
<text x="188.7" y="872.1" font-size="6.2" font-weight="500" fill="#c08591" transform="rotate(-9 188.7 866.8)">氛围感</text>
<text x="208.4" y="870.3" font-size="4.1" font-weight="500" fill="#c394a5" transform="rotate(8 208.4 866.8)">信息</text>
<text x="7.2" y="875.1" font-size="4.0" font-weight="500" fill="#ae6923" transform="rotate(-1 7.2 871.7)">联名</text>
<text x="16.0" y="875.1" font-size="4.0" font-weight="500" fill="#d59060" transform="rotate(12 16.0 871.7)">工作</text>
<text x="24.3" y="876.1" font-size="5.2" font-weight="500" fill="#ad6d28" transform="rotate(7 24.3 871.7)">上海</text>
<text x="35.4" y="876.1" font-size="5.2" font-weight="500" fill="#bd874c" transform="rotate(-7 35.4 871.7)">探店</text>
<text x="46.6" y="875.1" font-size="4.0" font-weight="500" fill="#c8945e" transform="rotate(8 46.6 871.7)">空间</text>
<text x="55.7" y="875.1" font-size="4.0" font-weight="500" fill="#b48443" transform="rotate(5 55.7 871.7)">升级</text>
<text x="64.2" y="874.6" font-size="3.4" font-weight="500" fill="#b98b4d" transform="rotate(-9 64.2 871.7)">新品</text>
<text x="71.6" y="875.1" font-size="4.0" font-weight="500" fill="#cfa271" transform="rotate(-3 71.6 871.7)">豆子</text>
<text x="80.6" y="875.6" font-size="4.6" font-weight="500" fill="#c6935a" transform="rotate(-2 80.6 871.7)">今天</text>
<text x="90.9" y="876.1" font-size="5.2" font-weight="500" fill="#ba894a" transform="rotate(-2 90.9 871.7)">分享</text>
<text x="102.1" y="876.1" font-size="5.2" font-weight="500" fill="#ab965b" transform="rotate(0 102.1 871.7)">美好</text>
<text x="113.0" y="876.1" font-size="5.2" font-weight="500" fill="#b6a16d" transform="rotate(-8 113.0 871.7)">咖啡厅</text>
<text x="129.2" y="875.1" font-size="4.0" font-weight="500" fill="#b59d68" transform="rotate(4 129.2 871.7)">市集</text>
<text x="137.8" y="875.6" font-size="4.6" font-weight="500" fill="#ab955e" transform="rotate(5 137.8 871.7)">活动</text>
<text x="148.0" y="875.6" font-size="4.6" font-weight="500" fill="#b8a577" transform="rotate(2 148.0 871.7)">拿铁</text>
<text x="158.4" y="875.1" font-size="4.0" font-weight="500" fill="#b09a77" transform="rotate(7 158.4 871.7)">奶茶</text>
<text x="167.3" y="874.6" font-size="3.4" font-weight="500" fill="#b2927e" transform="rotate(-0 167.3 871.7)">特色</text>
<text x="174.9" y="875.1" font-size="4.0" font-weight="500" fill="#cb9ea1" transform="rotate(8 174.9 871.7)">新店</text>
<text x="183.3" y="875.6" font-size="4.6" font-weight="500" fill="#d0a1a9" transform="rotate(6 183.3 871.7)">下午茶</text>
<text x="197.7" y="875.6" font-size="4.6" font-weight="500" fill="#c28f9c" transform="rotate(3 197.7 871.7)">静安</text>
<text x="207.9" y="875.1" font-size="4.0" font-weight="500" fill="#c7a0ad" transform="rotate(-0 207.9 871.7)">咖啡节</text>
<text x="3.9" y="880.2" font-size="5.2" font-weight="500" fill="#cf7b42" transform="rotate(-7 3.9 875.8)">拉花</text>
<text x="15.1" y="880.2" font-size="5.2" font-weight="500" fill="#c59361" transform="rotate(4 15.1 875.8)">酒店</text>
<text x="26.2" y="881.5" font-size="6.8" font-weight="500" fill="#d28e5b" transform="rotate(-6 26.2 875.8)">今天</text>
<text x="40.4" y="880.2" font-size="5.2" font-weight="500" fill="#b77f40" transform="rotate(7 40.4 875.8)">学校</text>
<text x="51.3" y="880.2" font-size="5.2" font-weight="500" fill="#c49863" transform="rotate(-6 51.3 875.8)">氛围</text>
<text x="62.3" y="881.5" font-size="6.8" font-weight="500" fill="#ae803b" transform="rotate(1 62.3 875.8)">空间</text>
<text x="76.4" y="879.5" font-size="4.4" font-weight="500" fill="#a6762b" transform="rotate(-9 76.4 875.8)">城市</text>
<text x="86.3" y="880.2" font-size="5.2" font-weight="500" fill="#a27f38" transform="rotate(-2 86.3 875.8)">大家</text>
<text x="97.6" y="879.5" font-size="4.4" font-weight="500" fill="#b18948" transform="rotate(1 97.6 875.8)">喜欢</text>
<text x="107.1" y="879.5" font-size="4.4" font-weight="500" fill="#92792d" transform="rotate(-1 107.1 875.8)">品牌</text>
<text x="117.1" y="880.2" font-size="5.2" font-weight="500" fill="#b49860" transform="rotate(9 117.1 875.8)">空间</text>
<text x="128.0" y="880.9" font-size="6.0" font-weight="500" fill="#a79c65" transform="rotate(-0 128.0 875.8)">咖啡厅</text>
<text x="146.9" y="879.5" font-size="4.4" font-weight="500" fill="#b39561" transform="rotate(-6 146.9 875.8)">探店</text>
<text x="156.5" y="881.5" font-size="6.8" font-weight="500" fill="#bd9471" transform="rotate(3 156.5 875.8)">疫情</text>
<text x="170.7" y="880.9" font-size="6.0" font-weight="500" fill="#b08679" transform="rotate(-8 170.7 875.8)">套餐</text>
<text x="183.0" y="881.5" font-size="6.8" font-weight="500" fill="#a37873" transform="rotate(4 183.0 875.8)">培训</text>
<text x="197.2" y="880.2" font-size="5.2" font-weight="500" fill="#bd969c" transform="rotate(-7 197.2 875.8)">活动</text>
<text x="208.3" y="879.5" font-size="4.4" font-weight="500" fill="#bc869a" transform="rotate(11 208.3 875.8)">酒店</text>
<text x="2.3" y="885.2" font-size="4.8" font-weight="500" fill="#b76e2b" transform="rotate(8 2.3 881.1)">快乐</text>
<text x="12.7" y="885.2" font-size="4.8" font-weight="500" fill="#ad6d28" transform="rotate(1 12.7 881.1)">视频</text>
<text x="22.8" y="885.8" font-size="5.5" font-weight="500" fill="#d18f5d" transform="rotate(-1 22.8 881.1)">上海人</text>
<text x="39.8" y="885.8" font-size="5.5" font-weight="500" fill="#b67531" transform="rotate(-10 39.8 881.1)">热门</text>
<text x="51.5" y="885.2" font-size="4.8" font-weight="500" fill="#d49e6f" transform="rotate(5 51.5 881.1)">优惠</text>
<text x="61.5" y="885.2" font-size="4.8" font-weight="500" fill="#cc9d6b" transform="rotate(-11 61.5 881.1)">美式</text>
<text x="71.7" y="885.2" font-size="4.8" font-weight="500" fill="#bf965e" transform="rotate(-2 71.7 881.1)">门店</text>
<text x="82.2" y="885.8" font-size="5.5" font-weight="500" fill="#b5945a" transform="rotate(-8 82.2 881.1)">起来</text>
<text x="94.1" y="885.2" font-size="4.8" font-weight="500" fill="#ad965b" transform="rotate(-7 94.1 881.1)">推荐</text>
<text x="104.7" y="886.4" font-size="6.2" font-weight="500" fill="#ad9559" transform="rotate(5 104.7 881.1)">梧桐</text>
<text x="117.9" y="885.2" font-size="4.8" font-weight="500" fill="#8d7f36" transform="rotate(-11 117.9 881.1)">星巴克</text>
<text x="133.4" y="885.2" font-size="4.8" font-weight="500" fill="#988341" transform="rotate(8 133.4 881.1)">活动</text>
<text x="143.6" y="885.2" font-size="4.8" font-weight="500" fill="#b59560" transform="rotate(9 143.6 881.1)">奶茶</text>
<text x="154.2" y="885.2" font-size="4.8" font-weight="500" fill="#a38351" transform="rotate(11 154.2 881.1)">奶茶</text>
<text x="164.2" y="886.4" font-size="6.2" font-weight="500" fill="#b68a74" transform="rotate(6 164.2 881.1)">城市</text>
<text x="177.1" y="885.8" font-size="5.5" font-weight="500" fill="#c08a8d" transform="rotate(10 177.1 881.1)">美好</text>
<text x="189.0" y="884.5" font-size="4.1" font-weight="500" fill="#c799a1" transform="rotate(-7 189.0 881.1)">拉花</text>
<text x="197.8" y="886.4" font-size="6.2" font-weight="500" fill="#b77c8b" transform="rotate(-4 197.8 881.1)">杭州</text>
<text x="210.8" y="884.5" font-size="4.1" font-weight="500" fill="#c79dad" transform="rotate(11 210.8 881.1)">推荐</text>
<text x="6.2" y="889.0" font-size="3.6" font-weight="500" fill="#d99668" transform="rotate(-4 6.2 886.0)">梧桐</text>
<text x="14.3" y="889.9" font-size="4.7" font-weight="500" fill="#b57737" transform="rotate(3 14.3 886.0)">视频</text>
<text x="24.4" y="889.5" font-size="4.1" font-weight="500" fill="#c18b54" transform="rotate(-6 24.4 886.0)">排队</text>
<text x="33.3" y="889.5" font-size="4.1" font-weight="500" fill="#c3864c" transform="rotate(4 33.3 886.0)">氛围</text>
<text x="42.1" y="888.6" font-size="3.1" font-weight="500" fill="#a56b20" transform="rotate(-2 42.1 886.0)">日常</text>
<text x="49.1" y="889.0" font-size="3.6" font-weight="500" fill="#c99c6a" transform="rotate(-2 49.1 886.0)">疫情</text>
<text x="57.0" y="889.0" font-size="3.6" font-weight="500" fill="#c6955e" transform="rotate(-9 57.0 886.0)">实习</text>
<text x="65.4" y="889.9" font-size="4.7" font-weight="500" fill="#c7884a" transform="rotate(5 65.4 886.0)">好吃</text>
<text x="75.5" y="888.6" font-size="3.1" font-weight="500" fill="#a67c34" transform="rotate(8 75.5 886.0)">海派</text>
<text x="82.6" y="888.6" font-size="3.1" font-weight="500" fill="#a47f39" transform="rotate(6 82.6 886.0)">安福路</text>
<text x="92.3" y="889.5" font-size="4.1" font-weight="500" fill="#ae9154" transform="rotate(-12 92.3 886.0)">优惠</text>
<text x="101.4" y="889.0" font-size="3.6" font-weight="500" fill="#c09e69" transform="rotate(-7 101.4 886.0)">虹桥</text>
<text x="109.6" y="889.9" font-size="4.7" font-weight="500" fill="#a39052" transform="rotate(-6 109.6 886.0)">咖啡厅</text>
<text x="124.4" y="889.0" font-size="3.6" font-weight="500" fill="#b7a574" transform="rotate(-0 124.4 886.0)">豆子</text>
<text x="132.5" y="889.5" font-size="4.1" font-weight="500" fill="#a09156" transform="rotate(-11 132.5 886.0)">空间</text>
<text x="141.7" y="889.0" font-size="3.6" font-weight="500" fill="#bda97d" transform="rotate(-1 141.7 886.0)">起来</text>
<text x="149.7" y="889.0" font-size="3.6" font-weight="500" fill="#a38c52" transform="rotate(6 149.7 886.0)">起来</text>
<text x="157.8" y="888.6" font-size="3.1" font-weight="500" fill="#ac9771" transform="rotate(1 157.8 886.0)">下午茶</text>
<text x="168.0" y="889.0" font-size="3.6" font-weight="500" fill="#c09589" transform="rotate(-1 168.0 886.0)">美食</text>
<text x="175.6" y="889.5" font-size="4.1" font-weight="500" fill="#be9794" transform="rotate(-3 175.6 886.0)">奶茶</text>
<text x="184.3" y="888.6" font-size="3.1" font-weight="500" fill="#bc7e88" transform="rotate(-8 184.3 886.0)">限定</text>
<text x="190.9" y="889.5" font-size="4.1" font-weight="500" fill="#ba9094" transform="rotate(-6 190.9 886.0)">环境</text>
<text x="199.8" y="888.6" font-size="3.1" font-weight="500" fill="#d1a3b2" transform="rotate(4 199.8 886.0)">星巴克</text>
<text x="209.6" y="889.5" font-size="4.1" font-weight="500" fill="#c99faf" transform="rotate(-7 209.6 886.0)">海派</text>
<text x="5.5" y="893.5" font-size="4.6" font-weight="500" fill="#b67f43" transform="rotate(-12 5.5 889.6)">美好</text>
<text x="15.4" y="893.5" font-size="4.6" font-weight="500" fill="#b4793b" transform="rotate(1 15.4 889.6)">酒店</text>
<text x="25.5" y="893.0" font-size="4.0" font-weight="500" fill="#c58951" transform="rotate(7 25.5 889.6)">心动</text>
<text x="34.3" y="892.5" font-size="3.4" font-weight="500" fill="#ce8f5b" transform="rotate(-10 34.3 889.6)">设计</text>
<text x="41.5" y="894.1" font-size="5.2" font-weight="500" fill="#cc9968" transform="rotate(9 41.5 889.6)">上海</text>
<text x="52.8" y="893.0" font-size="4.0" font-weight="500" fill="#c07f3e" transform="rotate(5 52.8 889.6)">拍照</text>
<text x="61.6" y="893.0" font-size="4.0" font-weight="500" fill="#cb8e54" transform="rotate(-1 61.6 889.6)">新品</text>
<text x="70.1" y="893.0" font-size="4.0" font-weight="500" fill="#b89257" transform="rotate(2 70.1 889.6)">星巴克</text>
<text x="82.9" y="893.0" font-size="4.0" font-weight="500" fill="#c09d68" transform="rotate(-12 82.9 889.6)">美食</text>
<text x="91.2" y="893.5" font-size="4.6" font-weight="500" fill="#b29960" transform="rotate(-3 91.2 889.6)">街区</text>
<text x="101.5" y="893.0" font-size="4.0" font-weight="500" fill="#b4965c" transform="rotate(-6 101.5 889.6)">中国</text>
<text x="110.0" y="894.1" font-size="5.2" font-weight="500" fill="#bca877" transform="rotate(-8 110.0 889.6)">服务</text>
<text x="121.1" y="893.5" font-size="4.6" font-weight="500" fill="#988642" transform="rotate(-8 121.1 889.6)">信息</text>
<text x="131.2" y="894.1" font-size="5.2" font-weight="500" fill="#998645" transform="rotate(-9 131.2 889.6)">人均</text>
<text x="142.0" y="892.5" font-size="3.4" font-weight="500" fill="#917e39" transform="rotate(6 142.0 889.6)">咖啡杯</text>
<text x="152.8" y="893.5" font-size="4.6" font-weight="500" fill="#c9ad8b" transform="rotate(-7 152.8 889.6)">网红</text>
<text x="163.2" y="893.0" font-size="4.0" font-weight="500" fill="#b38c73" transform="rotate(-6 163.2 889.6)">探店</text>
<text x="172.1" y="893.0" font-size="4.0" font-weight="500" fill="#b88e86" transform="rotate(-11 172.1 889.6)">实习</text>
<text x="180.7" y="893.0" font-size="4.0" font-weight="500" fill="#b78385" transform="rotate(-12 180.7 889.6)">起来</text>
<text x="189.4" y="893.0" font-size="4.0" font-weight="500" fill="#c4949c" transform="rotate(2 189.4 889.6)">外卖</text>
<text x="198.6" y="893.5" font-size="4.6" font-weight="500" fill="#bc9199" transform="rotate(6 198.6 889.6)">虹桥</text>
<text x="208.2" y="893.0" font-size="4.0" font-weight="500" fill="#c79cab" transform="rotate(8 208.2 889.6)">文化</text>
<text x="8.0" y="897.2" font-size="4.1" font-weight="500" fill="#be7c40" transform="rotate(-3 8.0 893.7)">生活</text>
<text x="17.3" y="897.2" font-size="4.1" font-weight="500" fill="#d69d71" transform="rotate(-6 17.3 893.7)">美好</text>
<text x="26.7" y="897.8" font-size="4.8" font-weight="500" fill="#b46f2b" transform="rotate(-10 26.7 893.7)">自己</text>
<text x="37.4" y="899.0" font-size="6.2" font-weight="500" fill="#d09a6a" transform="rotate(6 37.4 893.7)">朋友圈</text>
<text x="56.7" y="897.2" font-size="4.1" font-weight="500" fill="#b6813f" transform="rotate(10 56.7 893.7)">下午茶</text>
<text x="69.6" y="897.2" font-size="4.1" font-weight="500" fill="#c78748" transform="rotate(-3 69.6 893.7)">外滩</text>
<text x="78.8" y="897.8" font-size="4.8" font-weight="500" fill="#a37a31" transform="rotate(-4 78.8 893.7)">店铺</text>
<text x="89.4" y="899.0" font-size="6.2" font-weight="500" fill="#b08441" transform="rotate(-10 89.4 893.7)">喜欢</text>
<text x="102.5" y="898.4" font-size="5.5" font-weight="500" fill="#bba06c" transform="rotate(3 102.5 893.7)">优惠</text>
<text x="114.4" y="899.0" font-size="6.2" font-weight="500" fill="#a48f51" transform="rotate(1 114.4 893.7)">烘焙</text>
<text x="127.4" y="898.4" font-size="5.5" font-weight="500" fill="#978948" transform="rotate(-0 127.4 893.7)">特色</text>
<text x="138.8" y="897.8" font-size="4.8" font-weight="500" fill="#b3935c" transform="rotate(-1 138.8 893.7)">蛋糕</text>
<text x="148.7" y="898.4" font-size="5.5" font-weight="500" fill="#ae8e56" transform="rotate(-4 148.7 893.7)">杭州</text>
<text x="160.6" y="897.8" font-size="4.8" font-weight="500" fill="#b99579" transform="rotate(-6 160.6 893.7)">口感</text>
<text x="170.7" y="897.8" font-size="4.8" font-weight="500" fill="#ae7e72" transform="rotate(-1 170.7 893.7)">城市</text>
<text x="180.8" y="898.4" font-size="5.5" font-weight="500" fill="#b4918c" transform="rotate(-9 180.8 893.7)">中国</text>
<text x="192.8" y="899.0" font-size="6.2" font-weight="500" fill="#be8491" transform="rotate(12 192.8 893.7)">实习</text>
<text x="205.8" y="898.4" font-size="5.5" font-weight="500" fill="#d09cb1" transform="rotate(3 205.8 893.7)">市集</text>
<text x="2.8" y="901.7" font-size="3.6" font-weight="500" fill="#d3996c" transform="rotate(-1 2.8 898.6)">市集</text>
<text x="10.6" y="901.2" font-size="3.1" font-weight="500" fill="#cf8b59" transform="rotate(-7 10.6 898.6)">杭州</text>
<text x="17.8" y="901.7" font-size="3.6" font-weight="500" fill="#d59263" transform="rotate(-0 17.8 898.6)">咖啡杯</text>
<text x="28.9" y="901.7" font-size="3.6" font-weight="500" fill="#d59767" transform="rotate(-8 28.9 898.6)">城市</text>
<text x="36.5" y="901.7" font-size="3.6" font-weight="500" fill="#be8245" transform="rotate(-6 36.5 898.6)">限定</text>
<text x="44.7" y="902.1" font-size="4.1" font-weight="500" fill="#bd8446" transform="rotate(-3 44.7 898.6)">浦东</text>
<text x="53.7" y="901.7" font-size="3.6" font-weight="500" fill="#cf915b" transform="rotate(7 53.7 898.6)">奶茶</text>
<text x="61.3" y="901.7" font-size="3.6" font-weight="500" fill="#c88c51" transform="rotate(11 61.3 898.6)">优惠</text>
<text x="68.9" y="902.6" font-size="4.7" font-weight="500" fill="#b78442" transform="rotate(1 68.9 898.6)">空间</text>
<text x="79.3" y="902.1" font-size="4.1" font-weight="500" fill="#bc894a" transform="rotate(-3 79.3 898.6)">空间</text>
<text x="88.1" y="901.7" font-size="3.6" font-weight="500" fill="#ab8b4a" transform="rotate(9 88.1 898.6)">外滩</text>
<text x="96.0" y="901.2" font-size="3.1" font-weight="500" fill="#b79f69" transform="rotate(1 96.0 898.6)">套餐</text>
<text x="102.9" y="901.7" font-size="3.6" font-weight="500" fill="#bd9c66" transform="rotate(5 102.9 898.6)">氛围</text>
<text x="110.7" y="902.6" font-size="4.7" font-weight="500" fill="#9e8e4d" transform="rotate(-11 110.7 898.6)">限定</text>
<text x="120.5" y="902.1" font-size="4.1" font-weight="500" fill="#b79e69" transform="rotate(9 120.5 898.6)">优惠</text>
<text x="129.0" y="901.7" font-size="3.6" font-weight="500" fill="#b29259" transform="rotate(-4 129.0 898.6)">心动</text>
<text x="137.2" y="902.1" font-size="4.1" font-weight="500" fill="#ad9d69" transform="rotate(-5 137.2 898.6)">好喝</text>
<text x="146.3" y="902.6" font-size="4.7" font-weight="500" fill="#a0884c" transform="rotate(-9 146.3 898.6)">饮品</text>
<text x="156.1" y="902.6" font-size="4.7" font-weight="500" fill="#bb9470" transform="rotate(11 156.1 898.6)">豆子</text>
<text x="166.3" y="902.6" font-size="4.7" font-weight="500" fill="#be8d7e" transform="rotate(-2 166.3 898.6)">美式</text>
<text x="176.6" y="901.2" font-size="3.1" font-weight="500" fill="#c49396" transform="rotate(-4 176.6 898.6)">梧桐</text>
<text x="183.2" y="902.1" font-size="4.1" font-weight="500" fill="#b5928e" transform="rotate(-5 183.2 898.6)">实习</text>
<text x="192.0" y="901.2" font-size="3.1" font-weight="500" fill="#b89294" transform="rotate(-9 192.0 898.6)">咖啡杯</text>
<text x="201.5" y="902.6" font-size="4.7" font-weight="500" fill="#bf949e" transform="rotate(4 201.5 898.6)">好喝</text>
<text x="211.6" y="902.1" font-size="4.1" font-weight="500" fill="#a97f8a" transform="rotate(11 211.6 898.6)">热门</text>
<text x="3.0" y="906.3" font-size="4.7" font-weight="500" fill="#ae712f" transform="rotate(-7 3.0 902.3)">外滩</text>
<text x="13.2" y="905.3" font-size="3.6" font-weight="500" fill="#ca7f47" transform="rotate(6 13.2 902.3)">品牌</text>
<text x="21.2" y="905.3" font-size="3.6" font-weight="500" fill="#c97a3f" transform="rotate(-8 21.2 902.3)">喜欢</text>
<text x="28.9" y="905.3" font-size="3.6" font-weight="500" fill="#b0732f" transform="rotate(-1 28.9 902.3)">饮品</text>
<text x="36.6" y="906.3" font-size="4.7" font-weight="500" fill="#c58c54" transform="rotate(7 36.6 902.3)">氛围感</text>
<text x="51.4" y="905.3" font-size="3.6" font-weight="500" fill="#c9874b" transform="rotate(11 51.4 902.3)">联名</text>
<text x="59.6" y="906.3" font-size="4.7" font-weight="500" fill="#be9259" transform="rotate(0 59.6 902.3)">城市</text>
<text x="70.1" y="905.8" font-size="4.1" font-weight="500" fill="#ab813c" transform="rotate(3 70.1 902.3)">口感</text>
<text x="79.5" y="905.3" font-size="3.6" font-weight="500" fill="#b58b4b" transform="rotate(3 79.5 902.3)">空间</text>
<text x="87.6" y="905.3" font-size="3.6" font-weight="500" fill="#caa575" transform="rotate(7 87.6 902.3)">体验</text>
<text x="95.8" y="905.3" font-size="3.6" font-weight="500" fill="#a6833e" transform="rotate(-6 95.8 902.3)">文化</text>
<text x="103.4" y="905.3" font-size="3.6" font-weight="500" fill="#9b8039" transform="rotate(-8 103.4 902.3)">梧桐</text>
<text x="111.4" y="905.3" font-size="3.6" font-weight="500" fill="#8d7b30" transform="rotate(3 111.4 902.3)">门店</text>
<text x="119.5" y="905.3" font-size="3.6" font-weight="500" fill="#9a8a48" transform="rotate(3 119.5 902.3)">维修</text>
<text x="127.8" y="906.3" font-size="4.7" font-weight="500" fill="#b5a573" transform="rotate(-6 127.8 902.3)">好吃</text>
<text x="138.1" y="904.9" font-size="3.1" font-weight="500" fill="#a48a4d" transform="rotate(5 138.1 902.3)">安福路</text>
<text x="147.8" y="905.8" font-size="4.1" font-weight="500" fill="#a2894e" transform="rotate(7 147.8 902.3)">时间</text>
<text x="156.8" y="905.8" font-size="4.1" font-weight="500" fill="#ae946c" transform="rotate(5 156.8 902.3)">升级</text>
<text x="165.6" y="905.3" font-size="3.6" font-weight="500" fill="#b8907c" transform="rotate(-11 165.6 902.3)">街区</text>
<text x="173.9" y="905.3" font-size="3.6" font-weight="500" fill="#ba8282" transform="rotate(-9 173.9 902.3)">下午</text>
<text x="181.9" y="905.8" font-size="4.1" font-weight="500" fill="#b99391" transform="rotate(-11 181.9 902.3)">门店</text>
<text x="190.7" y="905.3" font-size="3.6" font-weight="500" fill="#cb9ea7" transform="rotate(-11 190.7 902.3)">店铺</text>
<text x="198.2" y="904.9" font-size="3.1" font-weight="500" fill="#ae7f87" transform="rotate(-5 198.2 902.3)">联名</text>
<text x="204.6" y="906.3" font-size="4.7" font-weight="500" fill="#bd899a" transform="rotate(4 204.6 902.3)">排队</text>
<text x="6.3" y="910.3" font-size="5.1" font-weight="500" fill="#c58046" transform="rotate(-3 6.3 906.0)">中国</text>
<text x="17.2" y="909.7" font-size="4.4" font-weight="500" fill="#b97332" transform="rotate(-7 17.2 906.0)">弄堂</text>
<text x="27.1" y="910.3" font-size="5.1" font-weight="500" fill="#bb793a" transform="rotate(3 27.1 906.0)">地址</text>
<text x="37.8" y="909.7" font-size="4.4" font-weight="500" fill="#cc8d57" transform="rotate(0 37.8 906.0)">酒店</text>
<text x="47.1" y="909.7" font-size="4.4" font-weight="500" fill="#d3a071" transform="rotate(-7 47.1 906.0)">优惠</text>
<text x="56.8" y="909.7" font-size="4.4" font-weight="500" fill="#c99b68" transform="rotate(-1 56.8 906.0)">餐厅</text>
<text x="66.5" y="910.8" font-size="5.7" font-weight="500" fill="#d0a372" transform="rotate(5 66.5 906.0)">烘焙</text>
<text x="78.7" y="910.3" font-size="5.1" font-weight="500" fill="#b18949" transform="rotate(9 78.7 906.0)">店铺</text>
<text x="89.9" y="910.3" font-size="5.1" font-weight="500" fill="#b19155" transform="rotate(-11 89.9 906.0)">市集</text>
<text x="100.5" y="910.3" font-size="5.1" font-weight="500" fill="#c0a371" transform="rotate(11 100.5 906.0)">设计</text>
<text x="111.1" y="909.7" font-size="4.4" font-weight="500" fill="#aa9256" transform="rotate(-4 111.1 906.0)">版本</text>
<text x="120.9" y="910.3" font-size="5.1" font-weight="500" fill="#93823b" transform="rotate(2 120.9 906.0)">拿铁</text>
<text x="131.9" y="910.8" font-size="5.7" font-weight="500" fill="#ad9861" transform="rotate(1 131.9 906.0)">打卡</text>
<text x="144.2" y="910.3" font-size="5.1" font-weight="500" fill="#b19f6e" transform="rotate(-11 144.2 906.0)">外滩</text>
<text x="155.0" y="909.7" font-size="4.4" font-weight="500" fill="#b3976f" transform="rotate(6 155.0 906.0)">推荐</text>
<text x="164.8" y="909.7" font-size="4.4" font-weight="500" fill="#b29079" transform="rotate(5 164.8 906.0)">海派</text>
<text x="174.5" y="909.1" font-size="3.7" font-weight="500" fill="#bf9592" transform="rotate(1 174.5 906.0)">大家</text>
<text x="182.5" y="910.3" font-size="5.1" font-weight="500" fill="#ab837f" transform="rotate(11 182.5 906.0)">价格</text>
<text x="193.6" y="910.3" font-size="5.1" font-weight="500" fill="#b4868c" transform="rotate(7 193.6 906.0)">海派</text>
<text x="204.1" y="909.1" font-size="3.7" font-weight="500" fill="#bf8599" transform="rotate(-2 204.1 906.0)">美好</text>
<text x="212.0" y="909.7" font-size="4.4" font-weight="500" fill="#b68e9a" transform="rotate(-6 212.0 906.0)">外卖</text>
<text x="4.3" y="914.4" font-size="4.6" font-weight="500" fill="#cc9767" transform="rotate(6 4.3 910.4)">静安</text>
<text x="14.0" y="913.3" font-size="3.4" font-weight="500" fill="#c8905e" transform="rotate(0 14.0 910.4)">服务</text>
<text x="21.8" y="914.4" font-size="4.6" font-weight="500" fill="#b57939" transform="rotate(6 21.8 910.4)">文化</text>
<text x="31.6" y="914.9" font-size="5.2" font-weight="500" fill="#c47f43" transform="rotate(4 31.6 910.4)">享受</text>
<text x="43.1" y="914.4" font-size="4.6" font-weight="500" fill="#b7894e" transform="rotate(-9 43.1 910.4)">拉花</text>
<text x="53.1" y="913.8" font-size="4.0" font-weight="500" fill="#b87a36" transform="rotate(3 53.1 910.4)">烘焙</text>
<text x="62.0" y="914.4" font-size="4.6" font-weight="500" fill="#d09c6a" transform="rotate(12 62.0 910.4)">自己</text>
<text x="72.1" y="913.8" font-size="4.0" font-weight="500" fill="#ce9862" transform="rotate(9 72.1 910.4)">疫情</text>
<text x="81.3" y="914.4" font-size="4.6" font-weight="500" fill="#b88847" transform="rotate(-1 81.3 910.4)">文化</text>
<text x="91.7" y="913.8" font-size="4.0" font-weight="500" fill="#ac8745" transform="rotate(-5 91.7 910.4)">下午</text>
<text x="100.8" y="914.9" font-size="5.2" font-weight="500" fill="#bc9961" transform="rotate(-8 100.8 910.4)">时间</text>
<text x="111.7" y="913.8" font-size="4.0" font-weight="500" fill="#b8a26e" transform="rotate(1 111.7 910.4)">酒店</text>
<text x="120.8" y="914.4" font-size="4.6" font-weight="500" fill="#a28847" transform="rotate(11 120.8 910.4)">升级</text>
<text x="130.4" y="913.3" font-size="3.4" font-weight="500" fill="#92823e" transform="rotate(3 130.4 910.4)">喜欢</text>
<text x="138.1" y="913.8" font-size="4.0" font-weight="500" fill="#b69864" transform="rotate(0 138.1 910.4)">快乐</text>
<text x="146.8" y="913.8" font-size="4.0" font-weight="500" fill="#aa9058" transform="rotate(10 146.8 910.4)">饮品</text>
<text x="155.7" y="913.8" font-size="4.0" font-weight="500" fill="#9d7d4b" transform="rotate(-3 155.7 910.4)">开始</text>
<text x="164.1" y="913.3" font-size="3.4" font-weight="500" fill="#caa595" transform="rotate(-9 164.1 910.4)">自己</text>
<text x="171.2" y="913.8" font-size="4.0" font-weight="500" fill="#b99087" transform="rotate(8 171.2 910.4)">浦东</text>
<text x="179.6" y="914.4" font-size="4.6" font-weight="500" fill="#c0858c" transform="rotate(5 179.6 910.4)">安福路</text>
<text x="194.2" y="914.9" font-size="5.2" font-weight="500" fill="#d0a1ae" transform="rotate(1 194.2 910.4)">拉花</text>
<text x="205.0" y="913.3" font-size="3.4" font-weight="500" fill="#b48b94" transform="rotate(10 205.0 910.4)">咖啡节</text>
<text x="5.0" y="918.4" font-size="4.6" font-weight="500" fill="#cb8048" transform="rotate(-3 5.0 914.5)">体验</text>
<text x="14.9" y="917.9" font-size="4.0" font-weight="500" fill="#d3986a" transform="rotate(-8 14.9 914.5)">好吃</text>
<text x="23.2" y="917.9" font-size="4.0" font-weight="500" fill="#c4874f" transform="rotate(-11 23.2 914.5)">浦东</text>
<text x="31.7" y="917.9" font-size="4.0" font-weight="500" fill="#bf864b" transform="rotate(-11 31.7 914.5)">烘焙</text>
<text x="40.1" y="918.4" font-size="4.6" font-weight="500" fill="#d6a174" transform="rotate(-10 40.1 914.5)">美食</text>
<text x="50.0" y="918.9" font-size="5.2" font-weight="500" fill="#ae7e3b" transform="rotate(4 50.0 914.5)">蛋糕</text>
<text x="61.4" y="918.9" font-size="5.2" font-weight="500" fill="#cb965f" transform="rotate(-5 61.4 914.5)">街区</text>
<text x="72.6" y="918.9" font-size="5.2" font-weight="500" fill="#b58c4e" transform="rotate(8 72.6 914.5)">杭州</text>
<text x="83.6" y="918.9" font-size="5.2" font-weight="500" fill="#b08644" transform="rotate(5 83.6 914.5)">拿铁</text>
<text x="95.2" y="917.9" font-size="4.0" font-weight="500" fill="#a38642" transform="rotate(-6 95.2 914.5)">口感</text>
<text x="103.8" y="918.9" font-size="5.2" font-weight="500" fill="#927c32" transform="rotate(-12 103.8 914.5)">杭州</text>
<text x="115.1" y="918.4" font-size="4.6" font-weight="500" fill="#9b8946" transform="rotate(10 115.1 914.5)">热门</text>
<text x="124.8" y="917.9" font-size="4.0" font-weight="500" fill="#998c4c" transform="rotate(2 124.8 914.5)">排队</text>
<text x="133.9" y="918.4" font-size="4.6" font-weight="500" fill="#b5955e" transform="rotate(-5 133.9 914.5)">团购</text>
<text x="143.7" y="918.4" font-size="4.6" font-weight="500" fill="#ae9560" transform="rotate(8 143.7 914.5)">弄堂</text>
<text x="153.4" y="917.9" font-size="4.0" font-weight="500" fill="#b19c71" transform="rotate(1 153.4 914.5)">升级</text>
<text x="162.2" y="917.4" font-size="3.4" font-weight="500" fill="#b78c72" transform="rotate(-2 162.2 914.5)">味道</text>
<text x="169.4" y="917.9" font-size="4.0" font-weight="500" fill="#a67968" transform="rotate(-9 169.4 914.5)">联名</text>
<text x="178.3" y="917.9" font-size="4.0" font-weight="500" fill="#b58a88" transform="rotate(-11 178.3 914.5)">美团</text>
<text x="186.7" y="917.4" font-size="3.4" font-weight="500" fill="#c78a97" transform="rotate(-8 186.7 914.5)">地址</text>
<text x="194.3" y="917.9" font-size="4.0" font-weight="500" fill="#c68d9c" transform="rotate(-4 194.3 914.5)">公司</text>
<text x="203.1" y="917.9" font-size="4.0" font-weight="500" fill="#b27b8a" transform="rotate(-8 203.1 914.5)">咖啡厅</text>
<text x="7.6" y="923.9" font-size="6.2" font-weight="500" fill="#cb854e" transform="rotate(2 7.6 918.6)">探店</text>
<text x="20.9" y="924.7" font-size="7.1" font-weight="500" fill="#c9854d" transform="rotate(-8 20.9 918.6)">咖啡杯</text>
<text x="42.9" y="924.7" font-size="7.1" font-weight="500" fill="#c88348" transform="rotate(-5 42.9 918.6)">朋友</text>
<text x="58.1" y="925.5" font-size="8.1" font-weight="500" fill="#c69a65" transform="rotate(6 58.1 918.6)">快乐</text>
<text x="74.6" y="923.9" font-size="6.2" font-weight="500" fill="#c49e69" transform="rotate(3 74.6 918.6)">豆子</text>
<text x="88.1" y="923.1" font-size="5.3" font-weight="500" fill="#9f782d" transform="rotate(6 88.1 918.6)">日常</text>
<text x="99.0" y="923.1" font-size="5.3" font-weight="500" fill="#b39256" transform="rotate(6 99.0 918.6)">上海人</text>
<text x="115.8" y="923.9" font-size="6.2" font-weight="500" fill="#bba472" transform="rotate(7 115.8 918.6)">星巴克</text>
<text x="135.2" y="925.5" font-size="8.1" font-weight="500" fill="#c2ad82" transform="rotate(0 135.2 918.6)">维修</text>
<text x="152.4" y="925.5" font-size="8.1" font-weight="500" fill="#af905f" transform="rotate(4 152.4 918.6)">餐厅</text>
<text x="169.4" y="925.5" font-size="8.1" font-weight="500" fill="#c49991" transform="rotate(12 169.4 918.6)">上海</text>
<text x="186.7" y="923.9" font-size="6.2" font-weight="500" fill="#c69ba0" transform="rotate(2 186.7 918.6)">徐汇</text>
<text x="199.7" y="924.7" font-size="7.1" font-weight="500" fill="#c692a2" transform="rotate(8 199.7 918.6)">蛋糕</text>
<text x="5.1" y="929.4" font-size="5.3" font-weight="500" fill="#ba844b" transform="rotate(1 5.1 924.9)">维修</text>
<text x="16.7" y="931.0" font-size="7.1" font-weight="500" fill="#a9651d" transform="rotate(-2 16.7 924.9)">上海</text>
<text x="32.2" y="931.0" font-size="7.1" font-weight="500" fill="#d19b6c" transform="rotate(-11 32.2 924.9)">中国</text>
<text x="47.2" y="929.4" font-size="5.3" font-weight="500" fill="#cf9d6d" transform="rotate(-3 47.2 924.9)">联名</text>
<text x="58.7" y="931.8" font-size="8.1" font-weight="500" fill="#ab7b35" transform="rotate(4 58.7 924.9)">优惠</text>
<text x="75.9" y="931.8" font-size="8.1" font-weight="500" fill="#9d7123" transform="rotate(3 75.9 924.9)">文化</text>
<text x="92.4" y="930.2" font-size="6.2" font-weight="500" fill="#957224" transform="rotate(2 92.4 924.9)">城市</text>
<text x="105.2" y="930.2" font-size="6.2" font-weight="500" fill="#a4833e" transform="rotate(-6 105.2 924.9)">推荐</text>
<text x="118.4" y="930.2" font-size="6.2" font-weight="500" fill="#af9e68" transform="rotate(-5 118.4 924.9)">优惠</text>
<text x="131.8" y="929.4" font-size="5.3" font-weight="500" fill="#c5af85" transform="rotate(3 131.8 924.9)">今天</text>
<text x="142.8" y="931.0" font-size="7.1" font-weight="500" fill="#b69e6d" transform="rotate(5 142.8 924.9)">团购</text>
<text x="157.5" y="931.8" font-size="8.1" font-weight="500" fill="#af8b65" transform="rotate(6 157.5 924.9)">版本</text>
<text x="174.0" y="931.0" font-size="7.1" font-weight="500" fill="#bf9894" transform="rotate(2 174.0 924.9)">文化</text>
<text x="188.8" y="930.2" font-size="6.2" font-weight="500" fill="#cc9aa5" transform="rotate(9 188.8 924.9)">新店</text>
<text x="201.6" y="930.2" font-size="6.2" font-weight="500" fill="#bd8093" transform="rotate(4 201.6 924.9)">门店</text>
<text x="2.2" y="936.5" font-size="6.2" font-weight="500" fill="#a7651c" transform="rotate(3 2.2 931.3)">咖啡节</text>
<text x="21.6" y="938.1" font-size="8.1" font-weight="500" fill="#cf8d5a" transform="rotate(12 21.6 931.3)">体验</text>
<text x="38.7" y="936.5" font-size="6.2" font-weight="500" fill="#c08549" transform="rotate(-11 38.7 931.3)">咖啡杯</text>
<text x="58.5" y="936.5" font-size="6.2" font-weight="500" fill="#c38e54" transform="rotate(-8 58.5 931.3)">品牌</text>
<text x="71.5" y="935.7" font-size="5.3" font-weight="500" fill="#c49b65" transform="rotate(7 71.5 931.3)">餐厅</text>
<text x="83.2" y="936.5" font-size="6.2" font-weight="500" fill="#9e7326" transform="rotate(1 83.2 931.3)">外滩</text>
<text x="96.6" y="936.5" font-size="6.2" font-weight="500" fill="#b2985f" transform="rotate(-1 96.6 931.3)">升级</text>
<text x="110.0" y="935.7" font-size="5.3" font-weight="500" fill="#bfa878" transform="rotate(-8 110.0 931.3)">朋友圈</text>
<text x="126.5" y="936.5" font-size="6.2" font-weight="500" fill="#8a7a30" transform="rotate(4 126.5 931.3)">下午茶</text>
<text x="146.3" y="938.1" font-size="8.1" font-weight="500" fill="#bca578" transform="rotate(-1 146.3 931.3)">推荐</text>
<text x="162.9" y="935.7" font-size="5.3" font-weight="500" fill="#a78667" transform="rotate(10 162.9 931.3)">店铺</text>
<text x="174.4" y="938.1" font-size="8.1" font-weight="500" fill="#b78c87" transform="rotate(-6 174.4 931.3)">信息</text>
<text x="191.1" y="935.7" font-size="5.3" font-weight="500" fill="#9e6e6f" transform="rotate(5 191.1 931.3)">杭州</text>
<text x="202.2" y="938.1" font-size="8.1" font-weight="500" fill="#b98694" transform="rotate(-5 202.2 931.3)">享受</text>
<text x="7.2" y="942.8" font-size="6.2" font-weight="500" fill="#aa6821" transform="rotate(-8 7.2 937.6)">推荐</text>
<text x="20.3" y="943.6" font-size="7.1" font-weight="500" fill="#c6773a" transform="rotate(5 20.3 937.6)">计划</text>
<text x="35.5" y="944.4" font-size="8.1" font-weight="500" fill="#c3864c" transform="rotate(-10 35.5 937.6)">豆子</text>
<text x="52.1" y="942.1" font-size="5.3" font-weight="500" fill="#ce9967" transform="rotate(-3 52.1 937.6)">计划</text>
<text x="63.5" y="942.1" font-size="5.3" font-weight="500" fill="#b58645" transform="rotate(-4 63.5 937.6)">咖啡杯</text>
<text x="80.4" y="942.1" font-size="5.3" font-weight="500" fill="#c08c4e" transform="rotate(2 80.4 937.6)">梧桐</text>
<text x="91.7" y="944.4" font-size="8.1" font-weight="500" fill="#b88848" transform="rotate(-3 91.7 937.6)">星巴克</text>
<text x="116.2" y="942.8" font-size="6.2" font-weight="500" fill="#a89052" transform="rotate(-9 116.2 937.6)">虹桥</text>
<text x="129.4" y="944.4" font-size="8.1" font-weight="500" fill="#b19a65" transform="rotate(-8 129.4 937.6)">梧桐</text>
<text x="146.6" y="944.4" font-size="8.1" font-weight="500" fill="#9c8a4e" transform="rotate(-2 146.6 937.6)">新品</text>
<text x="163.8" y="942.8" font-size="6.2" font-weight="500" fill="#b4836d" transform="rotate(-12 163.8 937.6)">咖啡节</text>
<text x="183.3" y="942.1" font-size="5.3" font-weight="500" fill="#a27571" transform="rotate(-6 183.3 937.6)">排队</text>
<text x="194.7" y="942.1" font-size="5.3" font-weight="500" fill="#b79094" transform="rotate(3 194.7 937.6)">口感</text>
<text x="205.8" y="942.8" font-size="6.2" font-weight="500" fill="#a57680" transform="rotate(-8 205.8 937.6)">生活</text>
<text x="6.5" y="950.1" font-size="7.3" font-weight="500" fill="#d1824c" transform="rotate(-5 6.5 943.9)">今天</text>
<text x="21.7" y="949.4" font-size="6.4" font-weight="500" fill="#bd8c55" transform="rotate(12 21.7 943.9)">蛋糕</text>
<text x="35.5" y="950.1" font-size="7.3" font-weight="500" fill="#c0874d" transform="rotate(11 35.5 943.9)">手冲</text>
<text x="51.2" y="948.7" font-size="5.6" font-weight="500" fill="#c7874b" transform="rotate(8 51.2 943.9)">开始</text>
<text x="63.2" y="947.9" font-size="4.8" font-weight="500" fill="#ab742b" transform="rotate(4 63.2 943.9)">梧桐</text>
<text x="73.8" y="948.7" font-size="5.6" font-weight="500" fill="#c59a64" transform="rotate(-3 73.8 943.9)">美式</text>
<text x="85.5" y="949.4" font-size="6.4" font-weight="500" fill="#a4792f" transform="rotate(-9 85.5 943.9)">疫情</text>
<text x="98.9" y="948.7" font-size="5.6" font-weight="500" fill="#967a2f" transform="rotate(-6 98.9 943.9)">奶茶</text>
<text x="111.3" y="947.9" font-size="4.8" font-weight="500" fill="#ac975d" transform="rotate(11 111.3 943.9)">下午茶</text>
<text x="126.6" y="950.1" font-size="7.3" font-weight="500" fill="#ae9f6a" transform="rotate(3 126.6 943.9)">好吃</text>
<text x="141.7" y="948.7" font-size="5.6" font-weight="500" fill="#aa9c67" transform="rotate(3 141.7 943.9)">街区</text>
<text x="154.0" y="950.1" font-size="7.3" font-weight="500" fill="#bb956c" transform="rotate(-3 154.0 943.9)">空间</text>
<text x="169.4" y="950.1" font-size="7.3" font-weight="500" fill="#c59d94" transform="rotate(-10 169.4 943.9)">喜欢</text>
<text x="184.7" y="949.4" font-size="6.4" font-weight="500" fill="#bc8b8f" transform="rotate(0 184.7 943.9)">豆子</text>
<text x="198.4" y="948.7" font-size="5.6" font-weight="500" fill="#c49aa3" transform="rotate(4 198.4 943.9)">特色</text>
<text x="210.7" y="949.4" font-size="6.4" font-weight="500" fill="#c09ca7" transform="rotate(9 210.7 943.9)">服务</text>
</g>
<g fill="#fbf6ee" clip-path="url(#cup)">
<rect x="35.8" y="812.2" width="26.4" height="12.9" transform="rotate(14 49 818.7)"/>
<rect x="61.1" y="813.0" width="16.6" height="8.1" transform="rotate(-8 69.4 817.1)"/>
<rect x="84.0" y="811.4" width="18.6" height="6.1" transform="rotate(8 93.3 814.4)"/>
<rect x="58.5" y="823.0" width="38.0" height="18.6" transform="rotate(12 77.5 832.3)"/>
<rect x="35.0" y="830.6" width="16.4" height="8.0" transform="rotate(-62 43.2 834.6)"/>
<rect x="34.4" y="840.6" width="24.4" height="12.0" transform="rotate(6 46.6 846.6)"/>
<rect x="88.4" y="837.5" width="14.0" height="6.9" transform="rotate(10 95.4 840.9)"/>
<rect x="90.6" y="823.3" width="12.0" height="5.9" transform="rotate(8 96.6 826.2)"/>
<rect x="74.3" y="847.8" width="28.0" height="13.7" transform="rotate(12 88.3 854.7)"/>
<rect x="55.0" y="850.5" width="14.0" height="6.9" transform="rotate(8 62 853.9)"/>
<rect x="38.1" y="858.8" width="59.4" height="19.4" transform="rotate(12 67.8 868.5)"/>
<rect x="34.7" y="875.5" width="14.0" height="6.9" transform="rotate(6 41.7 878.9)"/>
<rect x="54.2" y="879.4" width="16.0" height="7.8" transform="rotate(8 62.2 883.3)"/>
<rect x="71.8" y="883.2" width="13.2" height="6.5" transform="rotate(8 78.4 886.4)"/>
<rect x="89.2" y="882.8" width="14.0" height="6.9" transform="rotate(-70 96.2 886.2)"/>
<rect x="38.7" y="886.1" width="61.8" height="20.2" transform="rotate(10 69.6 896.2)"/>
<rect x="36.4" y="907.3" width="31.8" height="10.4" transform="rotate(8 52.3 912.5)"/>
<rect x="74.5" y="913.7" width="18.0" height="5.9" transform="rotate(8 83.5 916.6)"/>
<rect x="112.0" y="813.6" width="16.8" height="8.2" transform="rotate(-6 120.4 817.7)"/>
<rect x="110.9" y="824.6" width="14.0" height="6.9" transform="rotate(-6 117.9 828)"/>
<rect x="111.2" y="834.2" width="16.8" height="8.2" transform="rotate(-8 119.6 838.3)"/>
<rect x="110.2" y="843.7" width="20.4" height="10.0" transform="rotate(-8 120.4 848.7)"/>
<rect x="127.1" y="819.3" width="36.0" height="17.6" transform="rotate(-13 145.1 828.1)"/>
<rect x="133.4" y="837.0" width="34.0" height="16.7" transform="rotate(-10 150.4 845.3)"/>
<rect x="120.3" y="857.6" width="36.4" height="17.8" transform="rotate(20 138.5 866.5)"/>
<rect x="110.2" y="873.9" width="25.6" height="12.5" transform="rotate(16 123 880.2)"/>
<rect x="138.2" y="882.4" width="25.6" height="12.5" transform="rotate(22 151 888.7)"/>
<rect x="112.3" y="893.5" width="54.0" height="17.6" transform="rotate(12 139.3 902.3)"/>
<rect x="115.8" y="907.7" width="16.0" height="7.8" transform="rotate(10 123.8 911.6)"/>
<rect x="161.2" y="854.5" width="13.6" height="6.7" transform="rotate(-6 168 857.8)"/>
<rect x="169.0" y="812.9" width="16.8" height="8.2" transform="rotate(-6 177.4 817)"/>
<rect x="187.1" y="817.4" width="16.8" height="8.2" transform="rotate(12 195.5 821.5)"/>
<rect x="162.2" y="866.2" width="29.2" height="14.3" transform="rotate(-11 176.8 873.4)"/>
<rect x="189.2" y="858.7" width="13.6" height="6.7" transform="rotate(-30 196 862)"/>
<rect x="197.5" y="846.1" width="12.0" height="5.9" transform="rotate(70 203.5 849)"/>
<rect x="199.4" y="835.3" width="11.2" height="5.5" transform="rotate(75 205 838)"/>
<rect x="197.4" y="825.8" width="11.2" height="5.5" transform="rotate(60 203 828.5)"/>
<rect x="146.4" y="914.3" width="11.2" height="5.5" transform="rotate(4 152 917)"/>
</g>
<g text-anchor="middle" stroke="#f8f2e8" stroke-linejoin="round" paint-order="stroke">
<text x="49" y="823.5" font-size="13.2" font-weight="500" fill="#8c7a38" stroke-width="1.1" transform="rotate(14 49 818.7)">自己</text>
<text x="69.4" y="820.1" font-size="8.3" font-weight="500" fill="#a87a3a" stroke-width="0.5" transform="rotate(-8 69.4 817.1)">品牌</text>
<text x="93.3" y="816.6" font-size="6.2" font-weight="500" fill="#a08850" stroke-width="0.5" transform="rotate(8 93.3 814.4)">下午茶</text>
<text x="77.5" y="839.1" font-size="19" font-weight="700" fill="#a4552c" stroke-width="1.1" transform="rotate(12 77.5 832.3)">美食</text>
<text x="43.2" y="837.6" font-size="8.2" font-weight="500" fill="#9a8a3a" stroke-width="0.5" transform="rotate(-62 43.2 834.6)">工作</text>
<text x="46.6" y="851.0" font-size="12.2" font-weight="500" fill="#8a8a38" stroke-width="1.1" transform="rotate(6 46.6 846.6)">日常</text>
<text x="95.4" y="843.4" font-size="7" font-weight="500" fill="#9a7a40" stroke-width="0.5" transform="rotate(10 95.4 840.9)">升级</text>
<text x="96.6" y="828.4" font-size="6" font-weight="500" fill="#a08850" stroke-width="0.5" transform="rotate(8 96.6 826.2)">假日</text>
<text x="88.3" y="859.7" font-size="14" font-weight="700" fill="#9a5a28" stroke-width="1.1" transform="rotate(12 88.3 854.7)">疫情</text>
<text x="62" y="856.4" font-size="7" font-weight="500" fill="#9a9040" stroke-width="0.5" transform="rotate(8 62 853.9)">中国</text>
<text x="67.8" y="875.6" font-size="19.8" font-weight="700" fill="#8e3d1c" stroke-width="1.1" transform="rotate(12 67.8 868.5)">咖啡店</text>
<text x="41.7" y="881.4" font-size="7" font-weight="500" fill="#b08a40" stroke-width="0.5" transform="rotate(6 41.7 878.9)">城市</text>
<text x="62.2" y="886.2" font-size="8" font-weight="500" fill="#a07a3a" stroke-width="0.5" transform="rotate(8 62.2 883.3)">版本</text>
<text x="78.4" y="888.8" font-size="6.6" font-weight="500" fill="#a09050" stroke-width="0.5" transform="rotate(8 78.4 886.4)">杭州</text>
<text x="96.2" y="888.7" font-size="7" font-weight="500" fill="#8c6a3a" stroke-width="0.5" transform="rotate(-70 96.2 886.2)">信息</text>
<text x="69.6" y="903.6" font-size="20.6" font-weight="700" fill="#8a3a1c" stroke-width="1.1" transform="rotate(10 69.6 896.2)">咖啡机</text>
<text x="52.3" y="916.3" font-size="10.6" font-weight="700" fill="#b08426" stroke-width="0.5" transform="rotate(8 52.3 912.5)">咖啡馆</text>
<text x="83.5" y="918.8" font-size="6" font-weight="500" fill="#a08850" stroke-width="0.5" transform="rotate(8 83.5 916.6)">星巴克</text>
<text x="120.4" y="820.7" font-size="8.4" font-weight="500" fill="#7a6a3a" stroke-width="0.5" transform="rotate(-6 120.4 817.7)">推荐</text>
<text x="117.9" y="830.5" font-size="7" font-weight="500" fill="#8a7a50" stroke-width="0.5" transform="rotate(-6 117.9 828)">起来</text>
<text x="119.6" y="841.3" font-size="8.4" font-weight="500" fill="#8a7a40" stroke-width="0.5" transform="rotate(-8 119.6 838.3)">培训</text>
<text x="120.4" y="852.4" font-size="10.2" font-weight="500" fill="#7a6c3a" stroke-width="0.5" transform="rotate(-8 120.4 848.7)">团购</text>
<text x="145.1" y="834.6" font-size="18" font-weight="500" fill="#8c7636" stroke-width="1.1" transform="rotate(-13 145.1 828.1)">快乐</text>
<text x="150.4" y="851.4" font-size="17" font-weight="500" fill="#9a7c4c" stroke-width="1.1" transform="rotate(-10 150.4 845.3)">打卡</text>
<text x="138.5" y="873.1" font-size="18.2" font-weight="500" fill="#a08236" stroke-width="1.1" transform="rotate(20 138.5 866.5)">生活</text>
<text x="123" y="884.8" font-size="12.8" font-weight="500" fill="#8a6c3c" stroke-width="1.1" transform="rotate(16 123 880.2)">网红</text>
<text x="151" y="893.3" font-size="12.8" font-weight="500" fill="#b09464" stroke-width="1.1" transform="rotate(22 151 888.7)">今天</text>
<text x="139.3" y="908.8" font-size="18" font-weight="700" fill="#a8822c" stroke-width="1.1" transform="rotate(12 139.3 902.3)">喝咖啡</text>
<text x="123.8" y="914.5" font-size="8" font-weight="500" fill="#a87a3a" stroke-width="0.5" transform="rotate(10 123.8 911.6)">美好</text>
<text x="168" y="860.2" font-size="6.8" font-weight="500" fill="#9a8a6a" stroke-width="0.5" transform="rotate(-6 168 857.8)">展示</text>
<text x="177.4" y="820.0" font-size="8.4" font-weight="500" fill="#9a7c6c" stroke-width="0.5" transform="rotate(-6 177.4 817)">饮品</text>
<text x="195.5" y="824.5" font-size="8.4" font-weight="500" fill="#a07080" stroke-width="0.5" transform="rotate(12 195.5 821.5)">时间</text>
<text x="176.8" y="878.7" font-size="14.6" font-weight="700" fill="#a25264" stroke-width="1.1" transform="rotate(-11 176.8 873.4)">推荐</text>
<text x="196" y="864.4" font-size="6.8" font-weight="500" fill="#b07a90" stroke-width="0.5" transform="rotate(-30 196 862)">开始</text>
<text x="203.5" y="851.2" font-size="6" font-weight="500" fill="#b08a90" stroke-width="0.5" transform="rotate(70 203.5 849)">门店</text>
<text x="205" y="840.0" font-size="5.6" font-weight="500" fill="#b08a90" stroke-width="0.5" transform="rotate(75 205 838)">热门</text>
<text x="203" y="830.5" font-size="5.6" font-weight="500" fill="#a88a90" stroke-width="0.5" transform="rotate(60 203 828.5)">公司</text>
<text x="152" y="919.0" font-size="5.6" font-weight="500" fill="#a89070" stroke-width="0.5" transform="rotate(4 152 917)">视频</text>
</g>
</svg>
</body></html>
